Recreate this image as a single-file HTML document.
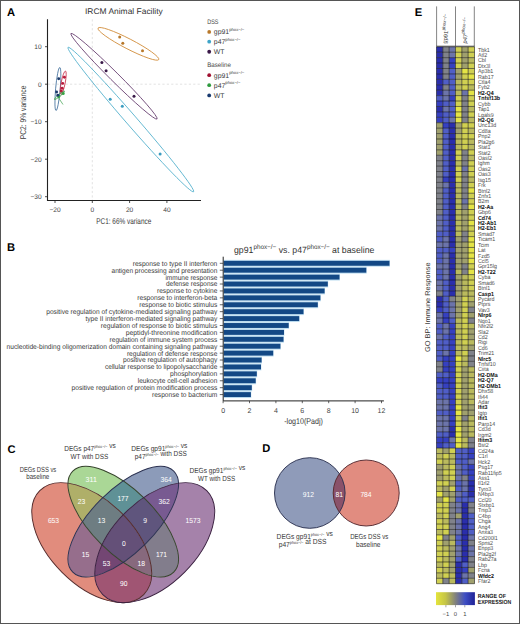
<!DOCTYPE html>
<html><head><meta charset="utf-8"><style>
html,body{margin:0;padding:0;background:#fff;}
svg{display:block;font-family:"Liberation Sans", sans-serif;text-rendering:geometricPrecision;}
</style></head><body>
<svg width="520" height="624" viewBox="0 0 520 624">
<rect x="0.5" y="0.5" width="519" height="623" fill="#fff" stroke="#555" stroke-width="1"/>
<text x="7.00" y="16.30" font-size="11.2" fill="#000" text-anchor="start" font-weight="bold" >A</text>
<text x="6.90" y="251.20" font-size="11.2" fill="#000" text-anchor="start" font-weight="bold" >B</text>
<text x="7.50" y="452.70" font-size="11.2" fill="#000" text-anchor="start" font-weight="bold" >C</text>
<text x="262.20" y="451.60" font-size="11.2" fill="#000" text-anchor="start" font-weight="bold" >D</text>
<text x="414.70" y="15.90" font-size="11.2" fill="#000" text-anchor="start" font-weight="bold" >E</text>
<text x="85.00" y="13.90" font-size="8.2" fill="#333" text-anchor="start" font-weight="normal" textLength="77.80" lengthAdjust="spacingAndGlyphs" >IRCM Animal Facility</text>
<line x1="92.3" y1="19.3" x2="92.3" y2="200" stroke="#cfcfcf" stroke-width="0.6" stroke-dasharray="2.2,2.2"/>
<line x1="48" y1="84.2" x2="201" y2="84.2" stroke="#cfcfcf" stroke-width="0.6" stroke-dasharray="2.2,2.2"/>
<path d="M47.5 19.3 V200.5 H201" fill="none" stroke="#222" stroke-width="1.1"/>
<line x1="45" y1="46.7" x2="47.5" y2="46.7" stroke="#222" stroke-width="0.8"/>
<text x="41.60" y="49.00" font-size="6.6" fill="#444" text-anchor="end" font-weight="normal" >10</text>
<line x1="45" y1="84.2" x2="47.5" y2="84.2" stroke="#222" stroke-width="0.8"/>
<text x="41.60" y="86.50" font-size="6.6" fill="#444" text-anchor="end" font-weight="normal" >0</text>
<line x1="45" y1="121.7" x2="47.5" y2="121.7" stroke="#222" stroke-width="0.8"/>
<text x="41.60" y="124.00" font-size="6.6" fill="#444" text-anchor="end" font-weight="normal" >−10</text>
<line x1="45" y1="159.2" x2="47.5" y2="159.2" stroke="#222" stroke-width="0.8"/>
<text x="41.60" y="161.50" font-size="6.6" fill="#444" text-anchor="end" font-weight="normal" >−20</text>
<line x1="45" y1="196.7" x2="47.5" y2="196.7" stroke="#222" stroke-width="0.8"/>
<text x="41.60" y="199.00" font-size="6.6" fill="#444" text-anchor="end" font-weight="normal" >−30</text>
<line x1="55" y1="200.5" x2="55" y2="203" stroke="#222" stroke-width="0.8"/>
<text x="55.00" y="212.30" font-size="6.6" fill="#444" text-anchor="middle" font-weight="normal" >−20</text>
<line x1="92.3" y1="200.5" x2="92.3" y2="203" stroke="#222" stroke-width="0.8"/>
<text x="92.30" y="212.30" font-size="6.6" fill="#444" text-anchor="middle" font-weight="normal" >0</text>
<line x1="129.6" y1="200.5" x2="129.6" y2="203" stroke="#222" stroke-width="0.8"/>
<text x="129.60" y="212.30" font-size="6.6" fill="#444" text-anchor="middle" font-weight="normal" >20</text>
<line x1="166.9" y1="200.5" x2="166.9" y2="203" stroke="#222" stroke-width="0.8"/>
<text x="166.90" y="212.30" font-size="6.6" fill="#444" text-anchor="middle" font-weight="normal" >40</text>
<text x="96.30" y="223.80" font-size="8.4" fill="#3a3a3a" text-anchor="start" font-weight="normal" textLength="55.00" lengthAdjust="spacingAndGlyphs" >PC1: 66% variance</text>
<text transform="translate(26.2,139.3) rotate(-90)" font-size="8.4" fill="#3a3a3a" textLength="53.7" lengthAdjust="spacingAndGlyphs">PC2: 9% variance</text>
<ellipse cx="128.4" cy="43.85" rx="34.2" ry="5.0" transform="rotate(27.4 128.4 43.85)" fill="none" stroke="#D08A36" stroke-width="0.8" />
<ellipse cx="114" cy="76.25" rx="60.7" ry="4.4" transform="rotate(44.8 114 76.25)" fill="none" stroke="#5E3468" stroke-width="0.8" />
<ellipse cx="130.8" cy="119.55" rx="95.7" ry="5.3" transform="rotate(49 130.8 119.55)" fill="none" stroke="#4EAECB" stroke-width="0.8" />
<ellipse cx="57.9" cy="89" rx="21.6" ry="2.3" transform="rotate(95 57.9 89)" fill="none" stroke="#3B6A9A" stroke-width="0.8" />
<ellipse cx="63.2" cy="82.7" rx="11.9" ry="2.0" transform="rotate(101 63.2 82.7)" fill="none" stroke="#C8304A" stroke-width="0.8" />
<ellipse cx="59.5" cy="95.3" rx="6.5" ry="1.0" transform="rotate(-40 59.5 95.3)" fill="none" stroke="#3BA04B" stroke-width="0.8" />
<line x1="58" y1="97" x2="63" y2="104.5" stroke="#3BA04B" stroke-width="0.7"/>
<circle cx="119.7" cy="37" r="1.5" fill="#B8782A"/>
<circle cx="122.8" cy="43.2" r="1.5" fill="#B8782A"/>
<circle cx="142.5" cy="50.7" r="1.5" fill="#B8782A"/>
<circle cx="101.9" cy="62.4" r="1.5" fill="#3A1848"/>
<circle cx="106.1" cy="70.7" r="1.5" fill="#3A1848"/>
<circle cx="134" cy="96.3" r="1.5" fill="#3A1848"/>
<circle cx="110.2" cy="99.2" r="1.5" fill="#3A9CC0"/>
<circle cx="122.3" cy="106.3" r="1.5" fill="#3A9CC0"/>
<circle cx="160.1" cy="154" r="1.5" fill="#3A9CC0"/>
<circle cx="64.4" cy="77.2" r="1.45" fill="#B8183A"/>
<circle cx="62.7" cy="83.4" r="1.45" fill="#B8183A"/>
<circle cx="62.2" cy="88.2" r="1.45" fill="#B8183A"/>
<circle cx="61.3" cy="90.9" r="1.45" fill="#B8183A"/>
<circle cx="63.2" cy="93.4" r="1.5" fill="#34A444"/>
<circle cx="58.8" cy="96.6" r="1.5" fill="#34A444"/>
<circle cx="58.7" cy="78.7" r="1.45" fill="#1C3A6A"/>
<circle cx="56.6" cy="92" r="1.45" fill="#1C3A6A"/>
<circle cx="57.8" cy="95.3" r="1.45" fill="#1C3A6A"/>
<text x="207.20" y="24.40" font-size="6.5" fill="#444" text-anchor="start" font-weight="normal" textLength="11.30" lengthAdjust="spacingAndGlyphs" >DSS</text>
<text x="207.20" y="67.10" font-size="6.5" fill="#444" text-anchor="start" font-weight="normal" textLength="23.70" lengthAdjust="spacingAndGlyphs" >Baseline</text>
<circle cx="209.2" cy="31.9" r="1.9" fill="#B8782A"/>
<text x="213.8" y="34.30" font-size="6.9" fill="#3a3a3a">gp91<tspan font-size="4.2" dy="-3.3">phox−/−</tspan></text>
<circle cx="209.2" cy="41.7" r="1.9" fill="#3EA4C8"/>
<text x="213.8" y="44.10" font-size="6.9" fill="#3a3a3a">p47<tspan font-size="4.2" dy="-3.3">phox−/−</tspan></text>
<circle cx="209.2" cy="51.75" r="1.9" fill="#3A1848"/>
<text x="213.8" y="54.15" font-size="6.9" fill="#3a3a3a">WT<tspan font-size="4.2" dy="-3.3"></tspan></text>
<circle cx="209.2" cy="75.2" r="1.9" fill="#A01030"/>
<text x="213.8" y="77.60" font-size="6.9" fill="#3a3a3a">gp91<tspan font-size="4.2" dy="-3.3">phox−/−</tspan></text>
<circle cx="209.2" cy="85.2" r="1.9" fill="#2E9A3E"/>
<text x="213.8" y="87.60" font-size="6.9" fill="#3a3a3a">p47<tspan font-size="4.2" dy="-3.3">phox−/−</tspan></text>
<circle cx="209.2" cy="95.4" r="1.9" fill="#183A70"/>
<text x="213.8" y="97.80" font-size="6.9" fill="#3a3a3a">WT<tspan font-size="4.2" dy="-3.3"></tspan></text>
<text x="234" y="253" font-size="9" fill="#333" textLength="140.4" lengthAdjust="spacingAndGlyphs">gp91<tspan font-size="6.5" dy="-3.6">phox−/−</tspan><tspan dy="3.6"> vs. p47</tspan><tspan font-size="6.5" dy="-3.6">phox−/−</tspan><tspan dy="3.6"> at baseline</tspan></text>
<rect x="223.7" y="259.85" width="166.20" height="6.9" fill="#C2E0F2"/>
<rect x="223.7" y="260.85" width="165.80" height="4.9" fill="#134885"/>
<line x1="219.8" y1="263.30" x2="223" y2="263.30" stroke="#222" stroke-width="0.7"/>
<text x="217.30" y="265.70" font-size="7.0" fill="#3a3a3a" text-anchor="end" font-weight="normal" textLength="84.60" lengthAdjust="spacingAndGlyphs" >response to type II interferon</text>
<rect x="223.7" y="266.76" width="143.00" height="6.9" fill="#C2E0F2"/>
<rect x="223.7" y="267.76" width="142.60" height="4.9" fill="#134885"/>
<line x1="219.8" y1="270.21" x2="223" y2="270.21" stroke="#222" stroke-width="0.7"/>
<text x="217.30" y="272.61" font-size="7.0" fill="#3a3a3a" text-anchor="end" font-weight="normal" textLength="105.80" lengthAdjust="spacingAndGlyphs" >antigen processing and presentation</text>
<rect x="223.7" y="273.67" width="116.20" height="6.9" fill="#C2E0F2"/>
<rect x="223.7" y="274.67" width="115.80" height="4.9" fill="#134885"/>
<line x1="219.8" y1="277.12" x2="223" y2="277.12" stroke="#222" stroke-width="0.7"/>
<text x="217.30" y="279.52" font-size="7.0" fill="#3a3a3a" text-anchor="end" font-weight="normal" textLength="51.90" lengthAdjust="spacingAndGlyphs" >immune response</text>
<rect x="223.7" y="280.58" width="104.50" height="6.9" fill="#C2E0F2"/>
<rect x="223.7" y="281.58" width="104.10" height="4.9" fill="#134885"/>
<line x1="219.8" y1="284.03" x2="223" y2="284.03" stroke="#222" stroke-width="0.7"/>
<text x="217.30" y="286.43" font-size="7.0" fill="#3a3a3a" text-anchor="end" font-weight="normal" textLength="51.30" lengthAdjust="spacingAndGlyphs" >defense response</text>
<rect x="223.7" y="287.49" width="101.30" height="6.9" fill="#C2E0F2"/>
<rect x="223.7" y="288.49" width="100.90" height="4.9" fill="#134885"/>
<line x1="219.8" y1="290.94" x2="223" y2="290.94" stroke="#222" stroke-width="0.7"/>
<text x="217.30" y="293.34" font-size="7.0" fill="#3a3a3a" text-anchor="end" font-weight="normal" textLength="60.30" lengthAdjust="spacingAndGlyphs" >response to cytokine</text>
<rect x="223.7" y="294.40" width="97.10" height="6.9" fill="#C2E0F2"/>
<rect x="223.7" y="295.40" width="96.70" height="4.9" fill="#134885"/>
<line x1="219.8" y1="297.85" x2="223" y2="297.85" stroke="#222" stroke-width="0.7"/>
<text x="217.30" y="300.25" font-size="7.0" fill="#3a3a3a" text-anchor="end" font-weight="normal" textLength="80.00" lengthAdjust="spacingAndGlyphs" >response to interferon-beta</text>
<rect x="223.7" y="301.31" width="94.50" height="6.9" fill="#C2E0F2"/>
<rect x="223.7" y="302.31" width="94.10" height="4.9" fill="#134885"/>
<line x1="219.8" y1="304.76" x2="223" y2="304.76" stroke="#222" stroke-width="0.7"/>
<text x="217.30" y="307.16" font-size="7.0" fill="#3a3a3a" text-anchor="end" font-weight="normal" textLength="78.10" lengthAdjust="spacingAndGlyphs" >response to biotic stimulus</text>
<rect x="223.7" y="308.22" width="80.20" height="6.9" fill="#C2E0F2"/>
<rect x="223.7" y="309.22" width="79.80" height="4.9" fill="#134885"/>
<line x1="219.8" y1="311.67" x2="223" y2="311.67" stroke="#222" stroke-width="0.7"/>
<text x="217.30" y="314.07" font-size="7.0" fill="#3a3a3a" text-anchor="end" font-weight="normal" textLength="171.10" lengthAdjust="spacingAndGlyphs" >positive regulation of cytokine-mediated signaling pathway</text>
<rect x="223.7" y="315.13" width="75.90" height="6.9" fill="#C2E0F2"/>
<rect x="223.7" y="316.13" width="75.50" height="4.9" fill="#134885"/>
<line x1="219.8" y1="318.58" x2="223" y2="318.58" stroke="#222" stroke-width="0.7"/>
<text x="217.30" y="320.98" font-size="7.0" fill="#3a3a3a" text-anchor="end" font-weight="normal" textLength="131.90" lengthAdjust="spacingAndGlyphs" >type II interferon-mediated signaling pathway</text>
<rect x="223.7" y="322.04" width="65.40" height="6.9" fill="#C2E0F2"/>
<rect x="223.7" y="323.04" width="65.00" height="4.9" fill="#134885"/>
<line x1="219.8" y1="325.49" x2="223" y2="325.49" stroke="#222" stroke-width="0.7"/>
<text x="217.30" y="327.89" font-size="7.0" fill="#3a3a3a" text-anchor="end" font-weight="normal" textLength="116.50" lengthAdjust="spacingAndGlyphs" >regulation of response to biotic stimulus</text>
<rect x="223.7" y="328.95" width="60.70" height="6.9" fill="#C2E0F2"/>
<rect x="223.7" y="329.95" width="60.30" height="4.9" fill="#134885"/>
<line x1="219.8" y1="332.40" x2="223" y2="332.40" stroke="#222" stroke-width="0.7"/>
<text x="217.30" y="334.80" font-size="7.0" fill="#3a3a3a" text-anchor="end" font-weight="normal" textLength="91.50" lengthAdjust="spacingAndGlyphs" >peptidyl-threonine modification</text>
<rect x="223.7" y="335.86" width="60.20" height="6.9" fill="#C2E0F2"/>
<rect x="223.7" y="336.86" width="59.80" height="4.9" fill="#134885"/>
<line x1="219.8" y1="339.31" x2="223" y2="339.31" stroke="#222" stroke-width="0.7"/>
<text x="217.30" y="341.71" font-size="7.0" fill="#3a3a3a" text-anchor="end" font-weight="normal" textLength="107.70" lengthAdjust="spacingAndGlyphs" >regulation of immune system process</text>
<rect x="223.7" y="342.77" width="57.10" height="6.9" fill="#C2E0F2"/>
<rect x="223.7" y="343.77" width="56.70" height="4.9" fill="#134885"/>
<line x1="219.8" y1="346.22" x2="223" y2="346.22" stroke="#222" stroke-width="0.7"/>
<text x="217.30" y="348.62" font-size="7.0" fill="#3a3a3a" text-anchor="end" font-weight="normal" textLength="210.80" lengthAdjust="spacingAndGlyphs" >nucleotide-binding oligomerization domain containing signaling pathway</text>
<rect x="223.7" y="349.68" width="49.90" height="6.9" fill="#C2E0F2"/>
<rect x="223.7" y="350.68" width="49.50" height="4.9" fill="#134885"/>
<line x1="219.8" y1="353.13" x2="223" y2="353.13" stroke="#222" stroke-width="0.7"/>
<text x="217.30" y="355.53" font-size="7.0" fill="#3a3a3a" text-anchor="end" font-weight="normal" textLength="90.40" lengthAdjust="spacingAndGlyphs" >regulation of defense response</text>
<rect x="223.7" y="356.59" width="38.30" height="6.9" fill="#C2E0F2"/>
<rect x="223.7" y="357.59" width="37.90" height="4.9" fill="#134885"/>
<line x1="219.8" y1="360.04" x2="223" y2="360.04" stroke="#222" stroke-width="0.7"/>
<text x="217.30" y="362.44" font-size="7.0" fill="#3a3a3a" text-anchor="end" font-weight="normal" textLength="94.30" lengthAdjust="spacingAndGlyphs" >positive regulation of autophagy</text>
<rect x="223.7" y="363.50" width="37.70" height="6.9" fill="#C2E0F2"/>
<rect x="223.7" y="364.50" width="37.30" height="4.9" fill="#134885"/>
<line x1="219.8" y1="366.95" x2="223" y2="366.95" stroke="#222" stroke-width="0.7"/>
<text x="217.30" y="369.35" font-size="7.0" fill="#3a3a3a" text-anchor="end" font-weight="normal" textLength="112.30" lengthAdjust="spacingAndGlyphs" >cellular response to lipopolysaccharide</text>
<rect x="223.7" y="370.41" width="33.50" height="6.9" fill="#C2E0F2"/>
<rect x="223.7" y="371.41" width="33.10" height="4.9" fill="#134885"/>
<line x1="219.8" y1="373.86" x2="223" y2="373.86" stroke="#222" stroke-width="0.7"/>
<text x="217.30" y="376.26" font-size="7.0" fill="#3a3a3a" text-anchor="end" font-weight="normal" textLength="47.30" lengthAdjust="spacingAndGlyphs" >phosphorylation</text>
<rect x="223.7" y="377.32" width="32.40" height="6.9" fill="#C2E0F2"/>
<rect x="223.7" y="378.32" width="32.00" height="4.9" fill="#134885"/>
<line x1="219.8" y1="380.77" x2="223" y2="380.77" stroke="#222" stroke-width="0.7"/>
<text x="217.30" y="383.17" font-size="7.0" fill="#3a3a3a" text-anchor="end" font-weight="normal" textLength="79.60" lengthAdjust="spacingAndGlyphs" >leukocyte cell-cell adhesion</text>
<rect x="223.7" y="384.23" width="28.50" height="6.9" fill="#C2E0F2"/>
<rect x="223.7" y="385.23" width="28.10" height="4.9" fill="#134885"/>
<line x1="219.8" y1="387.68" x2="223" y2="387.68" stroke="#222" stroke-width="0.7"/>
<text x="217.30" y="390.08" font-size="7.0" fill="#3a3a3a" text-anchor="end" font-weight="normal" textLength="145.80" lengthAdjust="spacingAndGlyphs" >positive regulation of protein modification process</text>
<rect x="223.7" y="391.14" width="27.60" height="6.9" fill="#C2E0F2"/>
<rect x="223.7" y="392.14" width="27.20" height="4.9" fill="#134885"/>
<line x1="219.8" y1="394.59" x2="223" y2="394.59" stroke="#222" stroke-width="0.7"/>
<text x="217.30" y="396.99" font-size="7.0" fill="#3a3a3a" text-anchor="end" font-weight="normal" textLength="65.30" lengthAdjust="spacingAndGlyphs" >response to bacterium</text>
<path d="M223.2 256.7 V400.9 H383.9" fill="none" stroke="#222" stroke-width="1"/>
<line x1="223.10" y1="400.9" x2="223.10" y2="403.2" stroke="#222" stroke-width="0.7"/>
<text x="223.10" y="412.60" font-size="7.0" fill="#444" text-anchor="middle" font-weight="normal" >0</text>
<line x1="249.50" y1="400.9" x2="249.50" y2="403.2" stroke="#222" stroke-width="0.7"/>
<text x="249.50" y="412.60" font-size="7.0" fill="#444" text-anchor="middle" font-weight="normal" >2</text>
<line x1="275.90" y1="400.9" x2="275.90" y2="403.2" stroke="#222" stroke-width="0.7"/>
<text x="275.90" y="412.60" font-size="7.0" fill="#444" text-anchor="middle" font-weight="normal" >4</text>
<line x1="302.30" y1="400.9" x2="302.30" y2="403.2" stroke="#222" stroke-width="0.7"/>
<text x="302.30" y="412.60" font-size="7.0" fill="#444" text-anchor="middle" font-weight="normal" >6</text>
<line x1="328.70" y1="400.9" x2="328.70" y2="403.2" stroke="#222" stroke-width="0.7"/>
<text x="328.70" y="412.60" font-size="7.0" fill="#444" text-anchor="middle" font-weight="normal" >8</text>
<line x1="355.10" y1="400.9" x2="355.10" y2="403.2" stroke="#222" stroke-width="0.7"/>
<text x="355.10" y="412.60" font-size="7.0" fill="#444" text-anchor="middle" font-weight="normal" >10</text>
<line x1="381.50" y1="400.9" x2="381.50" y2="403.2" stroke="#222" stroke-width="0.7"/>
<text x="381.50" y="412.60" font-size="7.0" fill="#444" text-anchor="middle" font-weight="normal" >12</text>
<text x="284.20" y="423.80" font-size="8.4" fill="#3a3a3a" text-anchor="start" font-weight="normal" textLength="38.80" lengthAdjust="spacingAndGlyphs" >-log10(Padj)</text>
<defs><clipPath id="ce0"><ellipse cx="91.75" cy="542.65" rx="73.50" ry="42.00" transform="rotate(45 91.75 542.65)"/></clipPath><clipPath id="ce1"><ellipse cx="123.25" cy="521.65" rx="71.40" ry="31.50" transform="rotate(45 123.25 521.65)"/></clipPath><clipPath id="ce2"><ellipse cx="123.25" cy="521.65" rx="71.40" ry="31.50" transform="rotate(-45 123.25 521.65)"/></clipPath><clipPath id="ce3"><ellipse cx="154.75" cy="542.65" rx="73.50" ry="42.00" transform="rotate(-45 154.75 542.65)"/></clipPath><mask id="mr" maskUnits="userSpaceOnUse" x="0" y="420" width="260" height="204"><rect x="0" y="420" width="260" height="204" fill="#fff"/><ellipse cx="123.25" cy="521.65" rx="71.40" ry="31.50" transform="rotate(45 123.25 521.65)" fill="#000"/><ellipse cx="123.25" cy="521.65" rx="71.40" ry="31.50" transform="rotate(-45 123.25 521.65)" fill="#000"/><ellipse cx="154.75" cy="542.65" rx="73.50" ry="42.00" transform="rotate(-45 154.75 542.65)" fill="#000"/></mask><mask id="mg" maskUnits="userSpaceOnUse" x="0" y="420" width="260" height="204"><rect x="0" y="420" width="260" height="204" fill="#fff"/><ellipse cx="91.75" cy="542.65" rx="73.50" ry="42.00" transform="rotate(45 91.75 542.65)" fill="#000"/><ellipse cx="123.25" cy="521.65" rx="71.40" ry="31.50" transform="rotate(-45 123.25 521.65)" fill="#000"/><ellipse cx="154.75" cy="542.65" rx="73.50" ry="42.00" transform="rotate(-45 154.75 542.65)" fill="#000"/></mask><mask id="mb" maskUnits="userSpaceOnUse" x="0" y="420" width="260" height="204"><rect x="0" y="420" width="260" height="204" fill="#fff"/><ellipse cx="91.75" cy="542.65" rx="73.50" ry="42.00" transform="rotate(45 91.75 542.65)" fill="#000"/><ellipse cx="123.25" cy="521.65" rx="71.40" ry="31.50" transform="rotate(45 123.25 521.65)" fill="#000"/><ellipse cx="154.75" cy="542.65" rx="73.50" ry="42.00" transform="rotate(-45 154.75 542.65)" fill="#000"/></mask><mask id="mp" maskUnits="userSpaceOnUse" x="0" y="420" width="260" height="204"><rect x="0" y="420" width="260" height="204" fill="#fff"/><ellipse cx="91.75" cy="542.65" rx="73.50" ry="42.00" transform="rotate(45 91.75 542.65)" fill="#000"/><ellipse cx="123.25" cy="521.65" rx="71.40" ry="31.50" transform="rotate(45 123.25 521.65)" fill="#000"/><ellipse cx="123.25" cy="521.65" rx="71.40" ry="31.50" transform="rotate(-45 123.25 521.65)" fill="#000"/></mask><mask id="mrg" maskUnits="userSpaceOnUse" x="0" y="420" width="260" height="204"><rect x="0" y="420" width="260" height="204" fill="#fff"/><ellipse cx="123.25" cy="521.65" rx="71.40" ry="31.50" transform="rotate(-45 123.25 521.65)" fill="#000"/><ellipse cx="154.75" cy="542.65" rx="73.50" ry="42.00" transform="rotate(-45 154.75 542.65)" fill="#000"/></mask><mask id="mgb" maskUnits="userSpaceOnUse" x="0" y="420" width="260" height="204"><rect x="0" y="420" width="260" height="204" fill="#fff"/><ellipse cx="91.75" cy="542.65" rx="73.50" ry="42.00" transform="rotate(45 91.75 542.65)" fill="#000"/><ellipse cx="154.75" cy="542.65" rx="73.50" ry="42.00" transform="rotate(-45 154.75 542.65)" fill="#000"/></mask><mask id="mbp" maskUnits="userSpaceOnUse" x="0" y="420" width="260" height="204"><rect x="0" y="420" width="260" height="204" fill="#fff"/><ellipse cx="91.75" cy="542.65" rx="73.50" ry="42.00" transform="rotate(45 91.75 542.65)" fill="#000"/><ellipse cx="123.25" cy="521.65" rx="71.40" ry="31.50" transform="rotate(45 123.25 521.65)" fill="#000"/></mask><mask id="mrp" maskUnits="userSpaceOnUse" x="0" y="420" width="260" height="204"><rect x="0" y="420" width="260" height="204" fill="#fff"/><ellipse cx="123.25" cy="521.65" rx="71.40" ry="31.50" transform="rotate(45 123.25 521.65)" fill="#000"/><ellipse cx="123.25" cy="521.65" rx="71.40" ry="31.50" transform="rotate(-45 123.25 521.65)" fill="#000"/></mask><mask id="mrb" maskUnits="userSpaceOnUse" x="0" y="420" width="260" height="204"><rect x="0" y="420" width="260" height="204" fill="#fff"/><ellipse cx="123.25" cy="521.65" rx="71.40" ry="31.50" transform="rotate(45 123.25 521.65)" fill="#000"/><ellipse cx="154.75" cy="542.65" rx="73.50" ry="42.00" transform="rotate(-45 154.75 542.65)" fill="#000"/></mask><mask id="mgp" maskUnits="userSpaceOnUse" x="0" y="420" width="260" height="204"><rect x="0" y="420" width="260" height="204" fill="#fff"/><ellipse cx="91.75" cy="542.65" rx="73.50" ry="42.00" transform="rotate(45 91.75 542.65)" fill="#000"/><ellipse cx="123.25" cy="521.65" rx="71.40" ry="31.50" transform="rotate(-45 123.25 521.65)" fill="#000"/></mask><mask id="mrgb" maskUnits="userSpaceOnUse" x="0" y="420" width="260" height="204"><rect x="0" y="420" width="260" height="204" fill="#fff"/><ellipse cx="154.75" cy="542.65" rx="73.50" ry="42.00" transform="rotate(-45 154.75 542.65)" fill="#000"/></mask><mask id="mgbp" maskUnits="userSpaceOnUse" x="0" y="420" width="260" height="204"><rect x="0" y="420" width="260" height="204" fill="#fff"/><ellipse cx="91.75" cy="542.65" rx="73.50" ry="42.00" transform="rotate(45 91.75 542.65)" fill="#000"/></mask><mask id="mrbp" maskUnits="userSpaceOnUse" x="0" y="420" width="260" height="204"><rect x="0" y="420" width="260" height="204" fill="#fff"/><ellipse cx="123.25" cy="521.65" rx="71.40" ry="31.50" transform="rotate(45 123.25 521.65)" fill="#000"/></mask><mask id="mrgp" maskUnits="userSpaceOnUse" x="0" y="420" width="260" height="204"><rect x="0" y="420" width="260" height="204" fill="#fff"/><ellipse cx="123.25" cy="521.65" rx="71.40" ry="31.50" transform="rotate(-45 123.25 521.65)" fill="#000"/></mask><mask id="mrgbp" maskUnits="userSpaceOnUse" x="0" y="420" width="260" height="204"><rect x="0" y="420" width="260" height="204" fill="#fff"/></mask></defs>
<g mask="url(#mr)"><g clip-path="url(#ce0)"><rect x="0" y="420" width="260" height="204" fill="rgb(225, 140, 125)"/></g></g>
<g mask="url(#mg)"><g clip-path="url(#ce1)"><rect x="0" y="420" width="260" height="204" fill="rgb(170, 215, 150)"/></g></g>
<g mask="url(#mb)"><g clip-path="url(#ce2)"><rect x="0" y="420" width="260" height="204" fill="rgb(140, 155, 185)"/></g></g>
<g mask="url(#mp)"><g clip-path="url(#ce3)"><rect x="0" y="420" width="260" height="204" fill="rgb(165, 130, 170)"/></g></g>
<g mask="url(#mrg)"><g clip-path="url(#ce0)"><g clip-path="url(#ce1)"><rect x="0" y="420" width="260" height="204" fill="rgb(175, 175, 105)"/></g></g></g>
<g mask="url(#mgb)"><g clip-path="url(#ce1)"><g clip-path="url(#ce2)"><rect x="0" y="420" width="260" height="204" fill="rgb(95, 145, 150)"/></g></g></g>
<g mask="url(#mbp)"><g clip-path="url(#ce2)"><g clip-path="url(#ce3)"><rect x="0" y="420" width="260" height="204" fill="rgb(120, 90, 145)"/></g></g></g>
<g mask="url(#mrp)"><g clip-path="url(#ce0)"><g clip-path="url(#ce3)"><rect x="0" y="420" width="260" height="204" fill="rgb(160, 85, 115)"/></g></g></g>
<g mask="url(#mrb)"><g clip-path="url(#ce0)"><g clip-path="url(#ce2)"><rect x="0" y="420" width="260" height="204" fill="rgb(150, 110, 140)"/></g></g></g>
<g mask="url(#mgp)"><g clip-path="url(#ce1)"><g clip-path="url(#ce3)"><rect x="0" y="420" width="260" height="204" fill="rgb(130, 125, 140)"/></g></g></g>
<g mask="url(#mrgb)"><g clip-path="url(#ce0)"><g clip-path="url(#ce1)"><g clip-path="url(#ce2)"><rect x="0" y="420" width="260" height="204" fill="rgb(110, 125, 130)"/></g></g></g></g>
<g mask="url(#mgbp)"><g clip-path="url(#ce1)"><g clip-path="url(#ce2)"><g clip-path="url(#ce3)"><rect x="0" y="420" width="260" height="204" fill="rgb(95, 85, 125)"/></g></g></g></g>
<g mask="url(#mrbp)"><g clip-path="url(#ce0)"><g clip-path="url(#ce2)"><g clip-path="url(#ce3)"><rect x="0" y="420" width="260" height="204" fill="rgb(115, 70, 115)"/></g></g></g></g>
<g mask="url(#mrgp)"><g clip-path="url(#ce0)"><g clip-path="url(#ce1)"><g clip-path="url(#ce3)"><rect x="0" y="420" width="260" height="204" fill="rgb(135, 105, 125)"/></g></g></g></g>
<g mask="url(#mrgbp)"><g clip-path="url(#ce0)"><g clip-path="url(#ce1)"><g clip-path="url(#ce2)"><g clip-path="url(#ce3)"><rect x="0" y="420" width="260" height="204" fill="rgb(100, 80, 120)"/></g></g></g></g></g>
<ellipse cx="91.75" cy="542.65" rx="73.50" ry="42.00" transform="rotate(45 91.75 542.65)" fill="none" stroke="#552a2a" stroke-width="0.95"/>
<ellipse cx="123.25" cy="521.65" rx="71.40" ry="31.50" transform="rotate(45 123.25 521.65)" fill="none" stroke="#34422a" stroke-width="0.95"/>
<ellipse cx="123.25" cy="521.65" rx="71.40" ry="31.50" transform="rotate(-45 123.25 521.65)" fill="none" stroke="#2a3050" stroke-width="0.95"/>
<ellipse cx="154.75" cy="542.65" rx="73.50" ry="42.00" transform="rotate(-45 154.75 542.65)" fill="none" stroke="#3a2040" stroke-width="0.95"/>
<text x="53.50" y="522.90" font-size="7.2" fill="#fff" text-anchor="middle" font-weight="normal" textLength="11.25" lengthAdjust="spacingAndGlyphs" >653</text>
<text x="91.20" y="481.70" font-size="7.2" fill="#fff" text-anchor="middle" font-weight="normal" textLength="11.25" lengthAdjust="spacingAndGlyphs" >311</text>
<text x="166.20" y="481.70" font-size="7.2" fill="#fff" text-anchor="middle" font-weight="normal" textLength="11.25" lengthAdjust="spacingAndGlyphs" >364</text>
<text x="193.00" y="522.90" font-size="7.2" fill="#fff" text-anchor="middle" font-weight="normal" textLength="15.00" lengthAdjust="spacingAndGlyphs" >1573</text>
<text x="81.50" y="504.00" font-size="7.2" fill="#fff" text-anchor="middle" font-weight="normal" textLength="7.50" lengthAdjust="spacingAndGlyphs" >23</text>
<text x="123.00" y="501.00" font-size="7.2" fill="#fff" text-anchor="middle" font-weight="normal" textLength="11.25" lengthAdjust="spacingAndGlyphs" >177</text>
<text x="164.20" y="504.00" font-size="7.2" fill="#fff" text-anchor="middle" font-weight="normal" textLength="11.25" lengthAdjust="spacingAndGlyphs" >362</text>
<text x="101.50" y="523.30" font-size="7.2" fill="#fff" text-anchor="middle" font-weight="normal" textLength="7.50" lengthAdjust="spacingAndGlyphs" >13</text>
<text x="145.00" y="523.30" font-size="7.2" fill="#fff" text-anchor="middle" font-weight="normal" textLength="3.75" lengthAdjust="spacingAndGlyphs" >9</text>
<text x="123.80" y="546.30" font-size="7.2" fill="#fff" text-anchor="middle" font-weight="normal" textLength="3.75" lengthAdjust="spacingAndGlyphs" >0</text>
<text x="85.40" y="556.70" font-size="7.2" fill="#fff" text-anchor="middle" font-weight="normal" textLength="7.50" lengthAdjust="spacingAndGlyphs" >15</text>
<text x="161.50" y="556.70" font-size="7.2" fill="#fff" text-anchor="middle" font-weight="normal" textLength="11.25" lengthAdjust="spacingAndGlyphs" >171</text>
<text x="106.50" y="566.30" font-size="7.2" fill="#fff" text-anchor="middle" font-weight="normal" textLength="7.50" lengthAdjust="spacingAndGlyphs" >53</text>
<text x="141.20" y="566.30" font-size="7.2" fill="#fff" text-anchor="middle" font-weight="normal" textLength="7.50" lengthAdjust="spacingAndGlyphs" >18</text>
<text x="123.80" y="586.30" font-size="7.2" fill="#fff" text-anchor="middle" font-weight="normal" textLength="7.50" lengthAdjust="spacingAndGlyphs" >90</text>
<text x="64.30" y="450.70" font-size="7.4" fill="#383838" textLength="51.50" lengthAdjust="spacingAndGlyphs">DEGs p47<tspan font-size="4.2" dy="-3.2">phox−/−</tspan><tspan dy="3.2"></tspan> vs</text>
<text x="70.50" y="458.50" font-size="7.4" fill="#383838" textLength="37.70" lengthAdjust="spacingAndGlyphs">WT with DSS</text>
<text x="19.70" y="471.50" font-size="7.4" fill="#383838" textLength="36.50" lengthAdjust="spacingAndGlyphs">DEGs DSS vs</text>
<text x="26.20" y="478.90" font-size="7.4" fill="#383838" textLength="23.10" lengthAdjust="spacingAndGlyphs">baseline</text>
<text x="131.30" y="450.80" font-size="7.4" fill="#383838" textLength="56.00" lengthAdjust="spacingAndGlyphs">DEGs gp91<tspan font-size="4.2" dy="-3.2">phox−/−</tspan><tspan dy="3.2"></tspan> vs</text>
<text x="134.80" y="458.80" font-size="7.4" fill="#383838" textLength="52.00" lengthAdjust="spacingAndGlyphs">p47<tspan font-size="4.2" dy="-3.2">phox−/−</tspan><tspan dy="3.2"></tspan> with DSS</text>
<text x="189.50" y="473.10" font-size="7.4" fill="#383838" textLength="55.70" lengthAdjust="spacingAndGlyphs">DEGs gp91<tspan font-size="4.2" dy="-3.2">phox−/−</tspan><tspan dy="3.2"></tspan> vs</text>
<text x="198.00" y="480.90" font-size="7.4" fill="#383838" textLength="37.20" lengthAdjust="spacingAndGlyphs">WT with DSS</text>
<defs><clipPath id="cdb"><circle cx="309.8" cy="493" r="35.3"/></clipPath></defs>
<circle cx="309.8" cy="493" r="35.3" fill="rgb(143,155,185)"/>
<circle cx="366.2" cy="493" r="33" fill="rgb(225,140,128)"/>
<circle cx="366.2" cy="493" r="33" fill="rgb(138,82,106)" clip-path="url(#cdb)"/>
<circle cx="309.8" cy="493" r="35.3" fill="none" stroke="#2a3050" stroke-width="0.95"/>
<circle cx="366.2" cy="493" r="33" fill="none" stroke="#552a30" stroke-width="0.95"/>
<text x="308.40" y="496.50" font-size="7.2" fill="#fff" text-anchor="middle" font-weight="normal" textLength="11.25" lengthAdjust="spacingAndGlyphs" >912</text>
<text x="339.20" y="496.50" font-size="7.2" fill="#fff" text-anchor="middle" font-weight="normal" textLength="7.50" lengthAdjust="spacingAndGlyphs" >81</text>
<text x="366.00" y="496.50" font-size="7.2" fill="#fff" text-anchor="middle" font-weight="normal" textLength="11.25" lengthAdjust="spacingAndGlyphs" >784</text>
<text x="276.60" y="539.00" font-size="7.4" fill="#383838" textLength="56.30" lengthAdjust="spacingAndGlyphs">DEGs gp91<tspan font-size="4.2" dy="-3.2">phox−/−</tspan><tspan dy="3.2"></tspan> vs</text>
<text x="278.70" y="547.10" font-size="7.4" fill="#383838" textLength="47.80" lengthAdjust="spacingAndGlyphs">p47<tspan font-size="4.2" dy="-3.2">phox−/−</tspan><tspan dy="3.2"></tspan> at DSS</text>
<text x="350.20" y="539.00" font-size="7.4" fill="#383838" textLength="38.10" lengthAdjust="spacingAndGlyphs">DEGs DSS vs</text>
<text x="356.00" y="547.10" font-size="7.4" fill="#383838" textLength="24.50" lengthAdjust="spacingAndGlyphs">baseline</text>
<rect x="436.50" y="46.80" width="6.33" height="5.42" fill="rgb(42, 46, 172)"/>
<rect x="442.83" y="46.80" width="6.33" height="5.42" fill="rgb(128, 130, 138)"/>
<rect x="449.17" y="46.80" width="6.33" height="5.42" fill="rgb(108, 116, 170)"/>
<rect x="455.50" y="46.80" width="6.33" height="5.42" fill="rgb(208, 208, 82)"/>
<rect x="461.83" y="46.80" width="6.33" height="5.42" fill="rgb(160, 160, 110)"/>
<rect x="468.17" y="46.80" width="6.33" height="5.42" fill="rgb(208, 208, 82)"/>
<rect x="436.50" y="52.22" width="6.33" height="5.42" fill="rgb(42, 46, 172)"/>
<rect x="442.83" y="52.22" width="6.33" height="5.42" fill="rgb(128, 130, 138)"/>
<rect x="449.17" y="52.22" width="6.33" height="5.42" fill="rgb(108, 116, 170)"/>
<rect x="455.50" y="52.22" width="6.33" height="5.42" fill="rgb(208, 208, 82)"/>
<rect x="461.83" y="52.22" width="6.33" height="5.42" fill="rgb(160, 160, 110)"/>
<rect x="468.17" y="52.22" width="6.33" height="5.42" fill="rgb(208, 208, 82)"/>
<rect x="436.50" y="57.65" width="6.33" height="5.42" fill="rgb(42, 46, 172)"/>
<rect x="442.83" y="57.65" width="6.33" height="5.42" fill="rgb(128, 130, 138)"/>
<rect x="449.17" y="57.65" width="6.33" height="5.42" fill="rgb(54, 64, 192)"/>
<rect x="455.50" y="57.65" width="6.33" height="5.42" fill="rgb(208, 208, 82)"/>
<rect x="461.83" y="57.65" width="6.33" height="5.42" fill="rgb(160, 160, 110)"/>
<rect x="468.17" y="57.65" width="6.33" height="5.42" fill="rgb(186, 186, 94)"/>
<rect x="436.50" y="63.07" width="6.33" height="5.42" fill="rgb(42, 46, 172)"/>
<rect x="442.83" y="63.07" width="6.33" height="5.42" fill="rgb(128, 130, 138)"/>
<rect x="449.17" y="63.07" width="6.33" height="5.42" fill="rgb(54, 64, 192)"/>
<rect x="455.50" y="63.07" width="6.33" height="5.42" fill="rgb(208, 208, 82)"/>
<rect x="461.83" y="63.07" width="6.33" height="5.42" fill="rgb(160, 160, 110)"/>
<rect x="468.17" y="63.07" width="6.33" height="5.42" fill="rgb(208, 208, 82)"/>
<rect x="436.50" y="68.49" width="6.33" height="5.42" fill="rgb(42, 46, 172)"/>
<rect x="442.83" y="68.49" width="6.33" height="5.42" fill="rgb(128, 130, 138)"/>
<rect x="449.17" y="68.49" width="6.33" height="5.42" fill="rgb(80, 94, 198)"/>
<rect x="455.50" y="68.49" width="6.33" height="5.42" fill="rgb(160, 160, 110)"/>
<rect x="461.83" y="68.49" width="6.33" height="5.42" fill="rgb(228, 228, 70)"/>
<rect x="468.17" y="68.49" width="6.33" height="5.42" fill="rgb(208, 208, 82)"/>
<rect x="436.50" y="73.92" width="6.33" height="5.42" fill="rgb(42, 46, 172)"/>
<rect x="442.83" y="73.92" width="6.33" height="5.42" fill="rgb(128, 130, 138)"/>
<rect x="449.17" y="73.92" width="6.33" height="5.42" fill="rgb(80, 94, 198)"/>
<rect x="455.50" y="73.92" width="6.33" height="5.42" fill="rgb(160, 160, 110)"/>
<rect x="461.83" y="73.92" width="6.33" height="5.42" fill="rgb(208, 208, 82)"/>
<rect x="468.17" y="73.92" width="6.33" height="5.42" fill="rgb(228, 228, 70)"/>
<rect x="436.50" y="79.34" width="6.33" height="5.42" fill="rgb(42, 46, 172)"/>
<rect x="442.83" y="79.34" width="6.33" height="5.42" fill="rgb(80, 94, 198)"/>
<rect x="449.17" y="79.34" width="6.33" height="5.42" fill="rgb(80, 94, 198)"/>
<rect x="455.50" y="79.34" width="6.33" height="5.42" fill="rgb(186, 186, 94)"/>
<rect x="461.83" y="79.34" width="6.33" height="5.42" fill="rgb(208, 208, 82)"/>
<rect x="468.17" y="79.34" width="6.33" height="5.42" fill="rgb(208, 208, 82)"/>
<rect x="436.50" y="84.76" width="6.33" height="5.42" fill="rgb(42, 46, 172)"/>
<rect x="442.83" y="84.76" width="6.33" height="5.42" fill="rgb(128, 130, 138)"/>
<rect x="449.17" y="84.76" width="6.33" height="5.42" fill="rgb(80, 94, 198)"/>
<rect x="455.50" y="84.76" width="6.33" height="5.42" fill="rgb(186, 186, 94)"/>
<rect x="461.83" y="84.76" width="6.33" height="5.42" fill="rgb(208, 208, 82)"/>
<rect x="468.17" y="84.76" width="6.33" height="5.42" fill="rgb(186, 186, 94)"/>
<rect x="436.50" y="90.19" width="6.33" height="5.42" fill="rgb(42, 46, 172)"/>
<rect x="442.83" y="90.19" width="6.33" height="5.42" fill="rgb(108, 116, 170)"/>
<rect x="449.17" y="90.19" width="6.33" height="5.42" fill="rgb(80, 94, 198)"/>
<rect x="455.50" y="90.19" width="6.33" height="5.42" fill="rgb(186, 186, 94)"/>
<rect x="461.83" y="90.19" width="6.33" height="5.42" fill="rgb(108, 116, 170)"/>
<rect x="468.17" y="90.19" width="6.33" height="5.42" fill="rgb(228, 228, 70)"/>
<rect x="436.50" y="95.61" width="6.33" height="5.42" fill="rgb(80, 94, 198)"/>
<rect x="442.83" y="95.61" width="6.33" height="5.42" fill="rgb(108, 116, 170)"/>
<rect x="449.17" y="95.61" width="6.33" height="5.42" fill="rgb(54, 64, 192)"/>
<rect x="455.50" y="95.61" width="6.33" height="5.42" fill="rgb(208, 208, 82)"/>
<rect x="461.83" y="95.61" width="6.33" height="5.42" fill="rgb(128, 130, 138)"/>
<rect x="468.17" y="95.61" width="6.33" height="5.42" fill="rgb(208, 208, 82)"/>
<rect x="436.50" y="101.03" width="6.33" height="5.42" fill="rgb(54, 64, 192)"/>
<rect x="442.83" y="101.03" width="6.33" height="5.42" fill="rgb(80, 94, 198)"/>
<rect x="449.17" y="101.03" width="6.33" height="5.42" fill="rgb(80, 94, 198)"/>
<rect x="455.50" y="101.03" width="6.33" height="5.42" fill="rgb(208, 208, 82)"/>
<rect x="461.83" y="101.03" width="6.33" height="5.42" fill="rgb(128, 130, 138)"/>
<rect x="468.17" y="101.03" width="6.33" height="5.42" fill="rgb(208, 208, 82)"/>
<rect x="436.50" y="106.46" width="6.33" height="5.42" fill="rgb(42, 46, 172)"/>
<rect x="442.83" y="106.46" width="6.33" height="5.42" fill="rgb(108, 116, 170)"/>
<rect x="449.17" y="106.46" width="6.33" height="5.42" fill="rgb(80, 94, 198)"/>
<rect x="455.50" y="106.46" width="6.33" height="5.42" fill="rgb(228, 228, 70)"/>
<rect x="461.83" y="106.46" width="6.33" height="5.42" fill="rgb(128, 130, 138)"/>
<rect x="468.17" y="106.46" width="6.33" height="5.42" fill="rgb(186, 186, 94)"/>
<rect x="436.50" y="111.88" width="6.33" height="5.42" fill="rgb(54, 64, 192)"/>
<rect x="442.83" y="111.88" width="6.33" height="5.42" fill="rgb(80, 94, 198)"/>
<rect x="449.17" y="111.88" width="6.33" height="5.42" fill="rgb(80, 94, 198)"/>
<rect x="455.50" y="111.88" width="6.33" height="5.42" fill="rgb(228, 228, 70)"/>
<rect x="461.83" y="111.88" width="6.33" height="5.42" fill="rgb(128, 130, 138)"/>
<rect x="468.17" y="111.88" width="6.33" height="5.42" fill="rgb(208, 208, 82)"/>
<rect x="436.50" y="117.30" width="6.33" height="5.42" fill="rgb(54, 64, 192)"/>
<rect x="442.83" y="117.30" width="6.33" height="5.42" fill="rgb(80, 94, 198)"/>
<rect x="449.17" y="117.30" width="6.33" height="5.42" fill="rgb(108, 116, 170)"/>
<rect x="455.50" y="117.30" width="6.33" height="5.42" fill="rgb(228, 228, 70)"/>
<rect x="461.83" y="117.30" width="6.33" height="5.42" fill="rgb(128, 130, 138)"/>
<rect x="468.17" y="117.30" width="6.33" height="5.42" fill="rgb(186, 186, 94)"/>
<rect x="436.50" y="122.73" width="6.33" height="5.42" fill="rgb(160, 160, 110)"/>
<rect x="442.83" y="122.73" width="6.33" height="5.42" fill="rgb(54, 64, 192)"/>
<rect x="449.17" y="122.73" width="6.33" height="5.42" fill="rgb(42, 46, 172)"/>
<rect x="455.50" y="122.73" width="6.33" height="5.42" fill="rgb(160, 160, 110)"/>
<rect x="461.83" y="122.73" width="6.33" height="5.42" fill="rgb(208, 208, 82)"/>
<rect x="468.17" y="122.73" width="6.33" height="5.42" fill="rgb(208, 208, 82)"/>
<rect x="436.50" y="128.15" width="6.33" height="5.42" fill="rgb(160, 160, 110)"/>
<rect x="442.83" y="128.15" width="6.33" height="5.42" fill="rgb(80, 94, 198)"/>
<rect x="449.17" y="128.15" width="6.33" height="5.42" fill="rgb(42, 46, 172)"/>
<rect x="455.50" y="128.15" width="6.33" height="5.42" fill="rgb(160, 160, 110)"/>
<rect x="461.83" y="128.15" width="6.33" height="5.42" fill="rgb(208, 208, 82)"/>
<rect x="468.17" y="128.15" width="6.33" height="5.42" fill="rgb(186, 186, 94)"/>
<rect x="436.50" y="133.57" width="6.33" height="5.42" fill="rgb(160, 160, 110)"/>
<rect x="442.83" y="133.57" width="6.33" height="5.42" fill="rgb(80, 94, 198)"/>
<rect x="449.17" y="133.57" width="6.33" height="5.42" fill="rgb(42, 46, 172)"/>
<rect x="455.50" y="133.57" width="6.33" height="5.42" fill="rgb(186, 186, 94)"/>
<rect x="461.83" y="133.57" width="6.33" height="5.42" fill="rgb(208, 208, 82)"/>
<rect x="468.17" y="133.57" width="6.33" height="5.42" fill="rgb(208, 208, 82)"/>
<rect x="436.50" y="138.99" width="6.33" height="5.42" fill="rgb(160, 160, 110)"/>
<rect x="442.83" y="138.99" width="6.33" height="5.42" fill="rgb(80, 94, 198)"/>
<rect x="449.17" y="138.99" width="6.33" height="5.42" fill="rgb(42, 46, 172)"/>
<rect x="455.50" y="138.99" width="6.33" height="5.42" fill="rgb(186, 186, 94)"/>
<rect x="461.83" y="138.99" width="6.33" height="5.42" fill="rgb(208, 208, 82)"/>
<rect x="468.17" y="138.99" width="6.33" height="5.42" fill="rgb(186, 186, 94)"/>
<rect x="436.50" y="144.42" width="6.33" height="5.42" fill="rgb(160, 160, 110)"/>
<rect x="442.83" y="144.42" width="6.33" height="5.42" fill="rgb(80, 94, 198)"/>
<rect x="449.17" y="144.42" width="6.33" height="5.42" fill="rgb(42, 46, 172)"/>
<rect x="455.50" y="144.42" width="6.33" height="5.42" fill="rgb(186, 186, 94)"/>
<rect x="461.83" y="144.42" width="6.33" height="5.42" fill="rgb(208, 208, 82)"/>
<rect x="468.17" y="144.42" width="6.33" height="5.42" fill="rgb(186, 186, 94)"/>
<rect x="436.50" y="149.84" width="6.33" height="5.42" fill="rgb(160, 160, 110)"/>
<rect x="442.83" y="149.84" width="6.33" height="5.42" fill="rgb(80, 94, 198)"/>
<rect x="449.17" y="149.84" width="6.33" height="5.42" fill="rgb(42, 46, 172)"/>
<rect x="455.50" y="149.84" width="6.33" height="5.42" fill="rgb(208, 208, 82)"/>
<rect x="461.83" y="149.84" width="6.33" height="5.42" fill="rgb(128, 130, 138)"/>
<rect x="468.17" y="149.84" width="6.33" height="5.42" fill="rgb(208, 208, 82)"/>
<rect x="436.50" y="155.26" width="6.33" height="5.42" fill="rgb(128, 130, 138)"/>
<rect x="442.83" y="155.26" width="6.33" height="5.42" fill="rgb(80, 94, 198)"/>
<rect x="449.17" y="155.26" width="6.33" height="5.42" fill="rgb(42, 46, 172)"/>
<rect x="455.50" y="155.26" width="6.33" height="5.42" fill="rgb(208, 208, 82)"/>
<rect x="461.83" y="155.26" width="6.33" height="5.42" fill="rgb(128, 130, 138)"/>
<rect x="468.17" y="155.26" width="6.33" height="5.42" fill="rgb(186, 186, 94)"/>
<rect x="436.50" y="160.69" width="6.33" height="5.42" fill="rgb(128, 130, 138)"/>
<rect x="442.83" y="160.69" width="6.33" height="5.42" fill="rgb(80, 94, 198)"/>
<rect x="449.17" y="160.69" width="6.33" height="5.42" fill="rgb(42, 46, 172)"/>
<rect x="455.50" y="160.69" width="6.33" height="5.42" fill="rgb(186, 186, 94)"/>
<rect x="461.83" y="160.69" width="6.33" height="5.42" fill="rgb(128, 130, 138)"/>
<rect x="468.17" y="160.69" width="6.33" height="5.42" fill="rgb(208, 208, 82)"/>
<rect x="436.50" y="166.11" width="6.33" height="5.42" fill="rgb(128, 130, 138)"/>
<rect x="442.83" y="166.11" width="6.33" height="5.42" fill="rgb(80, 94, 198)"/>
<rect x="449.17" y="166.11" width="6.33" height="5.42" fill="rgb(42, 46, 172)"/>
<rect x="455.50" y="166.11" width="6.33" height="5.42" fill="rgb(208, 208, 82)"/>
<rect x="461.83" y="166.11" width="6.33" height="5.42" fill="rgb(108, 116, 170)"/>
<rect x="468.17" y="166.11" width="6.33" height="5.42" fill="rgb(208, 208, 82)"/>
<rect x="436.50" y="171.53" width="6.33" height="5.42" fill="rgb(128, 130, 138)"/>
<rect x="442.83" y="171.53" width="6.33" height="5.42" fill="rgb(80, 94, 198)"/>
<rect x="449.17" y="171.53" width="6.33" height="5.42" fill="rgb(42, 46, 172)"/>
<rect x="455.50" y="171.53" width="6.33" height="5.42" fill="rgb(208, 208, 82)"/>
<rect x="461.83" y="171.53" width="6.33" height="5.42" fill="rgb(128, 130, 138)"/>
<rect x="468.17" y="171.53" width="6.33" height="5.42" fill="rgb(208, 208, 82)"/>
<rect x="436.50" y="176.96" width="6.33" height="5.42" fill="rgb(128, 130, 138)"/>
<rect x="442.83" y="176.96" width="6.33" height="5.42" fill="rgb(54, 64, 192)"/>
<rect x="449.17" y="176.96" width="6.33" height="5.42" fill="rgb(42, 46, 172)"/>
<rect x="455.50" y="176.96" width="6.33" height="5.42" fill="rgb(208, 208, 82)"/>
<rect x="461.83" y="176.96" width="6.33" height="5.42" fill="rgb(128, 130, 138)"/>
<rect x="468.17" y="176.96" width="6.33" height="5.42" fill="rgb(186, 186, 94)"/>
<rect x="436.50" y="182.38" width="6.33" height="5.42" fill="rgb(128, 130, 138)"/>
<rect x="442.83" y="182.38" width="6.33" height="5.42" fill="rgb(108, 116, 170)"/>
<rect x="449.17" y="182.38" width="6.33" height="5.42" fill="rgb(42, 46, 172)"/>
<rect x="455.50" y="182.38" width="6.33" height="5.42" fill="rgb(186, 186, 94)"/>
<rect x="461.83" y="182.38" width="6.33" height="5.42" fill="rgb(128, 130, 138)"/>
<rect x="468.17" y="182.38" width="6.33" height="5.42" fill="rgb(208, 208, 82)"/>
<rect x="436.50" y="187.80" width="6.33" height="5.42" fill="rgb(128, 130, 138)"/>
<rect x="442.83" y="187.80" width="6.33" height="5.42" fill="rgb(80, 94, 198)"/>
<rect x="449.17" y="187.80" width="6.33" height="5.42" fill="rgb(42, 46, 172)"/>
<rect x="455.50" y="187.80" width="6.33" height="5.42" fill="rgb(186, 186, 94)"/>
<rect x="461.83" y="187.80" width="6.33" height="5.42" fill="rgb(128, 130, 138)"/>
<rect x="468.17" y="187.80" width="6.33" height="5.42" fill="rgb(228, 228, 70)"/>
<rect x="436.50" y="193.23" width="6.33" height="5.42" fill="rgb(128, 130, 138)"/>
<rect x="442.83" y="193.23" width="6.33" height="5.42" fill="rgb(80, 94, 198)"/>
<rect x="449.17" y="193.23" width="6.33" height="5.42" fill="rgb(42, 46, 172)"/>
<rect x="455.50" y="193.23" width="6.33" height="5.42" fill="rgb(186, 186, 94)"/>
<rect x="461.83" y="193.23" width="6.33" height="5.42" fill="rgb(128, 130, 138)"/>
<rect x="468.17" y="193.23" width="6.33" height="5.42" fill="rgb(208, 208, 82)"/>
<rect x="436.50" y="198.65" width="6.33" height="5.42" fill="rgb(128, 130, 138)"/>
<rect x="442.83" y="198.65" width="6.33" height="5.42" fill="rgb(80, 94, 198)"/>
<rect x="449.17" y="198.65" width="6.33" height="5.42" fill="rgb(42, 46, 172)"/>
<rect x="455.50" y="198.65" width="6.33" height="5.42" fill="rgb(186, 186, 94)"/>
<rect x="461.83" y="198.65" width="6.33" height="5.42" fill="rgb(108, 116, 170)"/>
<rect x="468.17" y="198.65" width="6.33" height="5.42" fill="rgb(208, 208, 82)"/>
<rect x="436.50" y="204.07" width="6.33" height="5.42" fill="rgb(128, 130, 138)"/>
<rect x="442.83" y="204.07" width="6.33" height="5.42" fill="rgb(80, 94, 198)"/>
<rect x="449.17" y="204.07" width="6.33" height="5.42" fill="rgb(42, 46, 172)"/>
<rect x="455.50" y="204.07" width="6.33" height="5.42" fill="rgb(186, 186, 94)"/>
<rect x="461.83" y="204.07" width="6.33" height="5.42" fill="rgb(128, 130, 138)"/>
<rect x="468.17" y="204.07" width="6.33" height="5.42" fill="rgb(228, 228, 70)"/>
<rect x="436.50" y="209.50" width="6.33" height="5.42" fill="rgb(128, 130, 138)"/>
<rect x="442.83" y="209.50" width="6.33" height="5.42" fill="rgb(80, 94, 198)"/>
<rect x="449.17" y="209.50" width="6.33" height="5.42" fill="rgb(42, 46, 172)"/>
<rect x="455.50" y="209.50" width="6.33" height="5.42" fill="rgb(186, 186, 94)"/>
<rect x="461.83" y="209.50" width="6.33" height="5.42" fill="rgb(160, 160, 110)"/>
<rect x="468.17" y="209.50" width="6.33" height="5.42" fill="rgb(208, 208, 82)"/>
<rect x="436.50" y="214.92" width="6.33" height="5.42" fill="rgb(108, 116, 170)"/>
<rect x="442.83" y="214.92" width="6.33" height="5.42" fill="rgb(80, 94, 198)"/>
<rect x="449.17" y="214.92" width="6.33" height="5.42" fill="rgb(42, 46, 172)"/>
<rect x="455.50" y="214.92" width="6.33" height="5.42" fill="rgb(186, 186, 94)"/>
<rect x="461.83" y="214.92" width="6.33" height="5.42" fill="rgb(160, 160, 110)"/>
<rect x="468.17" y="214.92" width="6.33" height="5.42" fill="rgb(208, 208, 82)"/>
<rect x="436.50" y="220.34" width="6.33" height="5.42" fill="rgb(108, 116, 170)"/>
<rect x="442.83" y="220.34" width="6.33" height="5.42" fill="rgb(80, 94, 198)"/>
<rect x="449.17" y="220.34" width="6.33" height="5.42" fill="rgb(42, 46, 172)"/>
<rect x="455.50" y="220.34" width="6.33" height="5.42" fill="rgb(186, 186, 94)"/>
<rect x="461.83" y="220.34" width="6.33" height="5.42" fill="rgb(160, 160, 110)"/>
<rect x="468.17" y="220.34" width="6.33" height="5.42" fill="rgb(228, 228, 70)"/>
<rect x="436.50" y="225.77" width="6.33" height="5.42" fill="rgb(108, 116, 170)"/>
<rect x="442.83" y="225.77" width="6.33" height="5.42" fill="rgb(80, 94, 198)"/>
<rect x="449.17" y="225.77" width="6.33" height="5.42" fill="rgb(42, 46, 172)"/>
<rect x="455.50" y="225.77" width="6.33" height="5.42" fill="rgb(186, 186, 94)"/>
<rect x="461.83" y="225.77" width="6.33" height="5.42" fill="rgb(160, 160, 110)"/>
<rect x="468.17" y="225.77" width="6.33" height="5.42" fill="rgb(208, 208, 82)"/>
<rect x="436.50" y="231.19" width="6.33" height="5.42" fill="rgb(80, 94, 198)"/>
<rect x="442.83" y="231.19" width="6.33" height="5.42" fill="rgb(80, 94, 198)"/>
<rect x="449.17" y="231.19" width="6.33" height="5.42" fill="rgb(42, 46, 172)"/>
<rect x="455.50" y="231.19" width="6.33" height="5.42" fill="rgb(186, 186, 94)"/>
<rect x="461.83" y="231.19" width="6.33" height="5.42" fill="rgb(128, 130, 138)"/>
<rect x="468.17" y="231.19" width="6.33" height="5.42" fill="rgb(208, 208, 82)"/>
<rect x="436.50" y="236.61" width="6.33" height="5.42" fill="rgb(80, 94, 198)"/>
<rect x="442.83" y="236.61" width="6.33" height="5.42" fill="rgb(108, 116, 170)"/>
<rect x="449.17" y="236.61" width="6.33" height="5.42" fill="rgb(42, 46, 172)"/>
<rect x="455.50" y="236.61" width="6.33" height="5.42" fill="rgb(160, 160, 110)"/>
<rect x="461.83" y="236.61" width="6.33" height="5.42" fill="rgb(128, 130, 138)"/>
<rect x="468.17" y="236.61" width="6.33" height="5.42" fill="rgb(228, 228, 70)"/>
<rect x="436.50" y="242.04" width="6.33" height="5.42" fill="rgb(108, 116, 170)"/>
<rect x="442.83" y="242.04" width="6.33" height="5.42" fill="rgb(108, 116, 170)"/>
<rect x="449.17" y="242.04" width="6.33" height="5.42" fill="rgb(42, 46, 172)"/>
<rect x="455.50" y="242.04" width="6.33" height="5.42" fill="rgb(160, 160, 110)"/>
<rect x="461.83" y="242.04" width="6.33" height="5.42" fill="rgb(160, 160, 110)"/>
<rect x="468.17" y="242.04" width="6.33" height="5.42" fill="rgb(228, 228, 70)"/>
<rect x="436.50" y="247.46" width="6.33" height="5.42" fill="rgb(80, 94, 198)"/>
<rect x="442.83" y="247.46" width="6.33" height="5.42" fill="rgb(80, 94, 198)"/>
<rect x="449.17" y="247.46" width="6.33" height="5.42" fill="rgb(54, 64, 192)"/>
<rect x="455.50" y="247.46" width="6.33" height="5.42" fill="rgb(160, 160, 110)"/>
<rect x="461.83" y="247.46" width="6.33" height="5.42" fill="rgb(160, 160, 110)"/>
<rect x="468.17" y="247.46" width="6.33" height="5.42" fill="rgb(228, 228, 70)"/>
<rect x="436.50" y="252.88" width="6.33" height="5.42" fill="rgb(80, 94, 198)"/>
<rect x="442.83" y="252.88" width="6.33" height="5.42" fill="rgb(108, 116, 170)"/>
<rect x="449.17" y="252.88" width="6.33" height="5.42" fill="rgb(42, 46, 172)"/>
<rect x="455.50" y="252.88" width="6.33" height="5.42" fill="rgb(160, 160, 110)"/>
<rect x="461.83" y="252.88" width="6.33" height="5.42" fill="rgb(160, 160, 110)"/>
<rect x="468.17" y="252.88" width="6.33" height="5.42" fill="rgb(228, 228, 70)"/>
<rect x="436.50" y="258.31" width="6.33" height="5.42" fill="rgb(80, 94, 198)"/>
<rect x="442.83" y="258.31" width="6.33" height="5.42" fill="rgb(108, 116, 170)"/>
<rect x="449.17" y="258.31" width="6.33" height="5.42" fill="rgb(42, 46, 172)"/>
<rect x="455.50" y="258.31" width="6.33" height="5.42" fill="rgb(160, 160, 110)"/>
<rect x="461.83" y="258.31" width="6.33" height="5.42" fill="rgb(160, 160, 110)"/>
<rect x="468.17" y="258.31" width="6.33" height="5.42" fill="rgb(228, 228, 70)"/>
<rect x="436.50" y="263.73" width="6.33" height="5.42" fill="rgb(108, 116, 170)"/>
<rect x="442.83" y="263.73" width="6.33" height="5.42" fill="rgb(108, 116, 170)"/>
<rect x="449.17" y="263.73" width="6.33" height="5.42" fill="rgb(42, 46, 172)"/>
<rect x="455.50" y="263.73" width="6.33" height="5.42" fill="rgb(160, 160, 110)"/>
<rect x="461.83" y="263.73" width="6.33" height="5.42" fill="rgb(128, 130, 138)"/>
<rect x="468.17" y="263.73" width="6.33" height="5.42" fill="rgb(208, 208, 82)"/>
<rect x="436.50" y="269.15" width="6.33" height="5.42" fill="rgb(80, 94, 198)"/>
<rect x="442.83" y="269.15" width="6.33" height="5.42" fill="rgb(108, 116, 170)"/>
<rect x="449.17" y="269.15" width="6.33" height="5.42" fill="rgb(42, 46, 172)"/>
<rect x="455.50" y="269.15" width="6.33" height="5.42" fill="rgb(186, 186, 94)"/>
<rect x="461.83" y="269.15" width="6.33" height="5.42" fill="rgb(128, 130, 138)"/>
<rect x="468.17" y="269.15" width="6.33" height="5.42" fill="rgb(228, 228, 70)"/>
<rect x="436.50" y="274.58" width="6.33" height="5.42" fill="rgb(80, 94, 198)"/>
<rect x="442.83" y="274.58" width="6.33" height="5.42" fill="rgb(108, 116, 170)"/>
<rect x="449.17" y="274.58" width="6.33" height="5.42" fill="rgb(42, 46, 172)"/>
<rect x="455.50" y="274.58" width="6.33" height="5.42" fill="rgb(160, 160, 110)"/>
<rect x="461.83" y="274.58" width="6.33" height="5.42" fill="rgb(186, 186, 94)"/>
<rect x="468.17" y="274.58" width="6.33" height="5.42" fill="rgb(208, 208, 82)"/>
<rect x="436.50" y="280.00" width="6.33" height="5.42" fill="rgb(108, 116, 170)"/>
<rect x="442.83" y="280.00" width="6.33" height="5.42" fill="rgb(80, 94, 198)"/>
<rect x="449.17" y="280.00" width="6.33" height="5.42" fill="rgb(42, 46, 172)"/>
<rect x="455.50" y="280.00" width="6.33" height="5.42" fill="rgb(160, 160, 110)"/>
<rect x="461.83" y="280.00" width="6.33" height="5.42" fill="rgb(186, 186, 94)"/>
<rect x="468.17" y="280.00" width="6.33" height="5.42" fill="rgb(208, 208, 82)"/>
<rect x="436.50" y="285.42" width="6.33" height="5.42" fill="rgb(108, 116, 170)"/>
<rect x="442.83" y="285.42" width="6.33" height="5.42" fill="rgb(80, 94, 198)"/>
<rect x="449.17" y="285.42" width="6.33" height="5.42" fill="rgb(42, 46, 172)"/>
<rect x="455.50" y="285.42" width="6.33" height="5.42" fill="rgb(160, 160, 110)"/>
<rect x="461.83" y="285.42" width="6.33" height="5.42" fill="rgb(186, 186, 94)"/>
<rect x="468.17" y="285.42" width="6.33" height="5.42" fill="rgb(208, 208, 82)"/>
<rect x="436.50" y="290.85" width="6.33" height="5.42" fill="rgb(128, 130, 138)"/>
<rect x="442.83" y="290.85" width="6.33" height="5.42" fill="rgb(80, 94, 198)"/>
<rect x="449.17" y="290.85" width="6.33" height="5.42" fill="rgb(42, 46, 172)"/>
<rect x="455.50" y="290.85" width="6.33" height="5.42" fill="rgb(160, 160, 110)"/>
<rect x="461.83" y="290.85" width="6.33" height="5.42" fill="rgb(186, 186, 94)"/>
<rect x="468.17" y="290.85" width="6.33" height="5.42" fill="rgb(186, 186, 94)"/>
<rect x="436.50" y="296.27" width="6.33" height="5.42" fill="rgb(42, 46, 172)"/>
<rect x="442.83" y="296.27" width="6.33" height="5.42" fill="rgb(80, 94, 198)"/>
<rect x="449.17" y="296.27" width="6.33" height="5.42" fill="rgb(128, 130, 138)"/>
<rect x="455.50" y="296.27" width="6.33" height="5.42" fill="rgb(160, 160, 110)"/>
<rect x="461.83" y="296.27" width="6.33" height="5.42" fill="rgb(208, 208, 82)"/>
<rect x="468.17" y="296.27" width="6.33" height="5.42" fill="rgb(186, 186, 94)"/>
<rect x="436.50" y="301.69" width="6.33" height="5.42" fill="rgb(42, 46, 172)"/>
<rect x="442.83" y="301.69" width="6.33" height="5.42" fill="rgb(80, 94, 198)"/>
<rect x="449.17" y="301.69" width="6.33" height="5.42" fill="rgb(108, 116, 170)"/>
<rect x="455.50" y="301.69" width="6.33" height="5.42" fill="rgb(160, 160, 110)"/>
<rect x="461.83" y="301.69" width="6.33" height="5.42" fill="rgb(208, 208, 82)"/>
<rect x="468.17" y="301.69" width="6.33" height="5.42" fill="rgb(160, 160, 110)"/>
<rect x="436.50" y="307.12" width="6.33" height="5.42" fill="rgb(54, 64, 192)"/>
<rect x="442.83" y="307.12" width="6.33" height="5.42" fill="rgb(80, 94, 198)"/>
<rect x="449.17" y="307.12" width="6.33" height="5.42" fill="rgb(108, 116, 170)"/>
<rect x="455.50" y="307.12" width="6.33" height="5.42" fill="rgb(160, 160, 110)"/>
<rect x="461.83" y="307.12" width="6.33" height="5.42" fill="rgb(208, 208, 82)"/>
<rect x="468.17" y="307.12" width="6.33" height="5.42" fill="rgb(128, 130, 138)"/>
<rect x="436.50" y="312.54" width="6.33" height="5.42" fill="rgb(108, 116, 170)"/>
<rect x="442.83" y="312.54" width="6.33" height="5.42" fill="rgb(54, 64, 192)"/>
<rect x="449.17" y="312.54" width="6.33" height="5.42" fill="rgb(108, 116, 170)"/>
<rect x="455.50" y="312.54" width="6.33" height="5.42" fill="rgb(160, 160, 110)"/>
<rect x="461.83" y="312.54" width="6.33" height="5.42" fill="rgb(208, 208, 82)"/>
<rect x="468.17" y="312.54" width="6.33" height="5.42" fill="rgb(160, 160, 110)"/>
<rect x="436.50" y="317.96" width="6.33" height="5.42" fill="rgb(108, 116, 170)"/>
<rect x="442.83" y="317.96" width="6.33" height="5.42" fill="rgb(54, 64, 192)"/>
<rect x="449.17" y="317.96" width="6.33" height="5.42" fill="rgb(80, 94, 198)"/>
<rect x="455.50" y="317.96" width="6.33" height="5.42" fill="rgb(186, 186, 94)"/>
<rect x="461.83" y="317.96" width="6.33" height="5.42" fill="rgb(208, 208, 82)"/>
<rect x="468.17" y="317.96" width="6.33" height="5.42" fill="rgb(128, 130, 138)"/>
<rect x="436.50" y="323.38" width="6.33" height="5.42" fill="rgb(80, 94, 198)"/>
<rect x="442.83" y="323.38" width="6.33" height="5.42" fill="rgb(108, 116, 170)"/>
<rect x="449.17" y="323.38" width="6.33" height="5.42" fill="rgb(54, 64, 192)"/>
<rect x="455.50" y="323.38" width="6.33" height="5.42" fill="rgb(186, 186, 94)"/>
<rect x="461.83" y="323.38" width="6.33" height="5.42" fill="rgb(208, 208, 82)"/>
<rect x="468.17" y="323.38" width="6.33" height="5.42" fill="rgb(186, 186, 94)"/>
<rect x="436.50" y="328.81" width="6.33" height="5.42" fill="rgb(80, 94, 198)"/>
<rect x="442.83" y="328.81" width="6.33" height="5.42" fill="rgb(108, 116, 170)"/>
<rect x="449.17" y="328.81" width="6.33" height="5.42" fill="rgb(54, 64, 192)"/>
<rect x="455.50" y="328.81" width="6.33" height="5.42" fill="rgb(186, 186, 94)"/>
<rect x="461.83" y="328.81" width="6.33" height="5.42" fill="rgb(208, 208, 82)"/>
<rect x="468.17" y="328.81" width="6.33" height="5.42" fill="rgb(160, 160, 110)"/>
<rect x="436.50" y="334.23" width="6.33" height="5.42" fill="rgb(108, 116, 170)"/>
<rect x="442.83" y="334.23" width="6.33" height="5.42" fill="rgb(80, 94, 198)"/>
<rect x="449.17" y="334.23" width="6.33" height="5.42" fill="rgb(54, 64, 192)"/>
<rect x="455.50" y="334.23" width="6.33" height="5.42" fill="rgb(186, 186, 94)"/>
<rect x="461.83" y="334.23" width="6.33" height="5.42" fill="rgb(208, 208, 82)"/>
<rect x="468.17" y="334.23" width="6.33" height="5.42" fill="rgb(160, 160, 110)"/>
<rect x="436.50" y="339.65" width="6.33" height="5.42" fill="rgb(80, 94, 198)"/>
<rect x="442.83" y="339.65" width="6.33" height="5.42" fill="rgb(80, 94, 198)"/>
<rect x="449.17" y="339.65" width="6.33" height="5.42" fill="rgb(54, 64, 192)"/>
<rect x="455.50" y="339.65" width="6.33" height="5.42" fill="rgb(186, 186, 94)"/>
<rect x="461.83" y="339.65" width="6.33" height="5.42" fill="rgb(208, 208, 82)"/>
<rect x="468.17" y="339.65" width="6.33" height="5.42" fill="rgb(186, 186, 94)"/>
<rect x="436.50" y="345.08" width="6.33" height="5.42" fill="rgb(80, 94, 198)"/>
<rect x="442.83" y="345.08" width="6.33" height="5.42" fill="rgb(80, 94, 198)"/>
<rect x="449.17" y="345.08" width="6.33" height="5.42" fill="rgb(54, 64, 192)"/>
<rect x="455.50" y="345.08" width="6.33" height="5.42" fill="rgb(186, 186, 94)"/>
<rect x="461.83" y="345.08" width="6.33" height="5.42" fill="rgb(186, 186, 94)"/>
<rect x="468.17" y="345.08" width="6.33" height="5.42" fill="rgb(160, 160, 110)"/>
<rect x="436.50" y="350.50" width="6.33" height="5.42" fill="rgb(80, 94, 198)"/>
<rect x="442.83" y="350.50" width="6.33" height="5.42" fill="rgb(108, 116, 170)"/>
<rect x="449.17" y="350.50" width="6.33" height="5.42" fill="rgb(54, 64, 192)"/>
<rect x="455.50" y="350.50" width="6.33" height="5.42" fill="rgb(186, 186, 94)"/>
<rect x="461.83" y="350.50" width="6.33" height="5.42" fill="rgb(208, 208, 82)"/>
<rect x="468.17" y="350.50" width="6.33" height="5.42" fill="rgb(128, 130, 138)"/>
<rect x="436.50" y="355.92" width="6.33" height="5.42" fill="rgb(80, 94, 198)"/>
<rect x="442.83" y="355.92" width="6.33" height="5.42" fill="rgb(54, 64, 192)"/>
<rect x="449.17" y="355.92" width="6.33" height="5.42" fill="rgb(54, 64, 192)"/>
<rect x="455.50" y="355.92" width="6.33" height="5.42" fill="rgb(228, 228, 70)"/>
<rect x="461.83" y="355.92" width="6.33" height="5.42" fill="rgb(186, 186, 94)"/>
<rect x="468.17" y="355.92" width="6.33" height="5.42" fill="rgb(128, 130, 138)"/>
<rect x="436.50" y="361.35" width="6.33" height="5.42" fill="rgb(128, 130, 138)"/>
<rect x="442.83" y="361.35" width="6.33" height="5.42" fill="rgb(54, 64, 192)"/>
<rect x="449.17" y="361.35" width="6.33" height="5.42" fill="rgb(54, 64, 192)"/>
<rect x="455.50" y="361.35" width="6.33" height="5.42" fill="rgb(208, 208, 82)"/>
<rect x="461.83" y="361.35" width="6.33" height="5.42" fill="rgb(186, 186, 94)"/>
<rect x="468.17" y="361.35" width="6.33" height="5.42" fill="rgb(128, 130, 138)"/>
<rect x="436.50" y="366.77" width="6.33" height="5.42" fill="rgb(128, 130, 138)"/>
<rect x="442.83" y="366.77" width="6.33" height="5.42" fill="rgb(54, 64, 192)"/>
<rect x="449.17" y="366.77" width="6.33" height="5.42" fill="rgb(54, 64, 192)"/>
<rect x="455.50" y="366.77" width="6.33" height="5.42" fill="rgb(208, 208, 82)"/>
<rect x="461.83" y="366.77" width="6.33" height="5.42" fill="rgb(160, 160, 110)"/>
<rect x="468.17" y="366.77" width="6.33" height="5.42" fill="rgb(186, 186, 94)"/>
<rect x="436.50" y="372.19" width="6.33" height="5.42" fill="rgb(80, 94, 198)"/>
<rect x="442.83" y="372.19" width="6.33" height="5.42" fill="rgb(80, 94, 198)"/>
<rect x="449.17" y="372.19" width="6.33" height="5.42" fill="rgb(54, 64, 192)"/>
<rect x="455.50" y="372.19" width="6.33" height="5.42" fill="rgb(208, 208, 82)"/>
<rect x="461.83" y="372.19" width="6.33" height="5.42" fill="rgb(160, 160, 110)"/>
<rect x="468.17" y="372.19" width="6.33" height="5.42" fill="rgb(186, 186, 94)"/>
<rect x="436.50" y="377.62" width="6.33" height="5.42" fill="rgb(54, 64, 192)"/>
<rect x="442.83" y="377.62" width="6.33" height="5.42" fill="rgb(54, 64, 192)"/>
<rect x="449.17" y="377.62" width="6.33" height="5.42" fill="rgb(54, 64, 192)"/>
<rect x="455.50" y="377.62" width="6.33" height="5.42" fill="rgb(208, 208, 82)"/>
<rect x="461.83" y="377.62" width="6.33" height="5.42" fill="rgb(160, 160, 110)"/>
<rect x="468.17" y="377.62" width="6.33" height="5.42" fill="rgb(186, 186, 94)"/>
<rect x="436.50" y="383.04" width="6.33" height="5.42" fill="rgb(80, 94, 198)"/>
<rect x="442.83" y="383.04" width="6.33" height="5.42" fill="rgb(54, 64, 192)"/>
<rect x="449.17" y="383.04" width="6.33" height="5.42" fill="rgb(54, 64, 192)"/>
<rect x="455.50" y="383.04" width="6.33" height="5.42" fill="rgb(208, 208, 82)"/>
<rect x="461.83" y="383.04" width="6.33" height="5.42" fill="rgb(160, 160, 110)"/>
<rect x="468.17" y="383.04" width="6.33" height="5.42" fill="rgb(186, 186, 94)"/>
<rect x="436.50" y="388.46" width="6.33" height="5.42" fill="rgb(80, 94, 198)"/>
<rect x="442.83" y="388.46" width="6.33" height="5.42" fill="rgb(80, 94, 198)"/>
<rect x="449.17" y="388.46" width="6.33" height="5.42" fill="rgb(54, 64, 192)"/>
<rect x="455.50" y="388.46" width="6.33" height="5.42" fill="rgb(208, 208, 82)"/>
<rect x="461.83" y="388.46" width="6.33" height="5.42" fill="rgb(160, 160, 110)"/>
<rect x="468.17" y="388.46" width="6.33" height="5.42" fill="rgb(186, 186, 94)"/>
<rect x="436.50" y="393.89" width="6.33" height="5.42" fill="rgb(80, 94, 198)"/>
<rect x="442.83" y="393.89" width="6.33" height="5.42" fill="rgb(80, 94, 198)"/>
<rect x="449.17" y="393.89" width="6.33" height="5.42" fill="rgb(54, 64, 192)"/>
<rect x="455.50" y="393.89" width="6.33" height="5.42" fill="rgb(208, 208, 82)"/>
<rect x="461.83" y="393.89" width="6.33" height="5.42" fill="rgb(160, 160, 110)"/>
<rect x="468.17" y="393.89" width="6.33" height="5.42" fill="rgb(186, 186, 94)"/>
<rect x="436.50" y="399.31" width="6.33" height="5.42" fill="rgb(108, 116, 170)"/>
<rect x="442.83" y="399.31" width="6.33" height="5.42" fill="rgb(108, 116, 170)"/>
<rect x="449.17" y="399.31" width="6.33" height="5.42" fill="rgb(54, 64, 192)"/>
<rect x="455.50" y="399.31" width="6.33" height="5.42" fill="rgb(208, 208, 82)"/>
<rect x="461.83" y="399.31" width="6.33" height="5.42" fill="rgb(160, 160, 110)"/>
<rect x="468.17" y="399.31" width="6.33" height="5.42" fill="rgb(186, 186, 94)"/>
<rect x="436.50" y="404.73" width="6.33" height="5.42" fill="rgb(108, 116, 170)"/>
<rect x="442.83" y="404.73" width="6.33" height="5.42" fill="rgb(108, 116, 170)"/>
<rect x="449.17" y="404.73" width="6.33" height="5.42" fill="rgb(54, 64, 192)"/>
<rect x="455.50" y="404.73" width="6.33" height="5.42" fill="rgb(228, 228, 70)"/>
<rect x="461.83" y="404.73" width="6.33" height="5.42" fill="rgb(160, 160, 110)"/>
<rect x="468.17" y="404.73" width="6.33" height="5.42" fill="rgb(160, 160, 110)"/>
<rect x="436.50" y="410.16" width="6.33" height="5.42" fill="rgb(80, 94, 198)"/>
<rect x="442.83" y="410.16" width="6.33" height="5.42" fill="rgb(80, 94, 198)"/>
<rect x="449.17" y="410.16" width="6.33" height="5.42" fill="rgb(54, 64, 192)"/>
<rect x="455.50" y="410.16" width="6.33" height="5.42" fill="rgb(228, 228, 70)"/>
<rect x="461.83" y="410.16" width="6.33" height="5.42" fill="rgb(160, 160, 110)"/>
<rect x="468.17" y="410.16" width="6.33" height="5.42" fill="rgb(160, 160, 110)"/>
<rect x="436.50" y="415.58" width="6.33" height="5.42" fill="rgb(108, 116, 170)"/>
<rect x="442.83" y="415.58" width="6.33" height="5.42" fill="rgb(108, 116, 170)"/>
<rect x="449.17" y="415.58" width="6.33" height="5.42" fill="rgb(54, 64, 192)"/>
<rect x="455.50" y="415.58" width="6.33" height="5.42" fill="rgb(208, 208, 82)"/>
<rect x="461.83" y="415.58" width="6.33" height="5.42" fill="rgb(128, 130, 138)"/>
<rect x="468.17" y="415.58" width="6.33" height="5.42" fill="rgb(186, 186, 94)"/>
<rect x="436.50" y="421.00" width="6.33" height="5.42" fill="rgb(108, 116, 170)"/>
<rect x="442.83" y="421.00" width="6.33" height="5.42" fill="rgb(108, 116, 170)"/>
<rect x="449.17" y="421.00" width="6.33" height="5.42" fill="rgb(54, 64, 192)"/>
<rect x="455.50" y="421.00" width="6.33" height="5.42" fill="rgb(208, 208, 82)"/>
<rect x="461.83" y="421.00" width="6.33" height="5.42" fill="rgb(160, 160, 110)"/>
<rect x="468.17" y="421.00" width="6.33" height="5.42" fill="rgb(186, 186, 94)"/>
<rect x="436.50" y="426.43" width="6.33" height="5.42" fill="rgb(108, 116, 170)"/>
<rect x="442.83" y="426.43" width="6.33" height="5.42" fill="rgb(108, 116, 170)"/>
<rect x="449.17" y="426.43" width="6.33" height="5.42" fill="rgb(42, 46, 172)"/>
<rect x="455.50" y="426.43" width="6.33" height="5.42" fill="rgb(228, 228, 70)"/>
<rect x="461.83" y="426.43" width="6.33" height="5.42" fill="rgb(160, 160, 110)"/>
<rect x="468.17" y="426.43" width="6.33" height="5.42" fill="rgb(186, 186, 94)"/>
<rect x="436.50" y="431.85" width="6.33" height="5.42" fill="rgb(80, 94, 198)"/>
<rect x="442.83" y="431.85" width="6.33" height="5.42" fill="rgb(80, 94, 198)"/>
<rect x="449.17" y="431.85" width="6.33" height="5.42" fill="rgb(42, 46, 172)"/>
<rect x="455.50" y="431.85" width="6.33" height="5.42" fill="rgb(228, 228, 70)"/>
<rect x="461.83" y="431.85" width="6.33" height="5.42" fill="rgb(160, 160, 110)"/>
<rect x="468.17" y="431.85" width="6.33" height="5.42" fill="rgb(186, 186, 94)"/>
<rect x="436.50" y="437.27" width="6.33" height="5.42" fill="rgb(54, 64, 192)"/>
<rect x="442.83" y="437.27" width="6.33" height="5.42" fill="rgb(54, 64, 192)"/>
<rect x="449.17" y="437.27" width="6.33" height="5.42" fill="rgb(108, 116, 170)"/>
<rect x="455.50" y="437.27" width="6.33" height="5.42" fill="rgb(228, 228, 70)"/>
<rect x="461.83" y="437.27" width="6.33" height="5.42" fill="rgb(186, 186, 94)"/>
<rect x="468.17" y="437.27" width="6.33" height="5.42" fill="rgb(128, 130, 138)"/>
<rect x="436.50" y="442.70" width="6.33" height="5.42" fill="rgb(54, 64, 192)"/>
<rect x="442.83" y="442.70" width="6.33" height="5.42" fill="rgb(80, 94, 198)"/>
<rect x="449.17" y="442.70" width="6.33" height="5.42" fill="rgb(80, 94, 198)"/>
<rect x="455.50" y="442.70" width="6.33" height="5.42" fill="rgb(228, 228, 70)"/>
<rect x="461.83" y="442.70" width="6.33" height="5.42" fill="rgb(186, 186, 94)"/>
<rect x="468.17" y="442.70" width="6.33" height="5.42" fill="rgb(128, 130, 138)"/>
<rect x="436.50" y="448.12" width="6.33" height="5.42" fill="rgb(186, 186, 94)"/>
<rect x="442.83" y="448.12" width="6.33" height="5.42" fill="rgb(160, 160, 110)"/>
<rect x="449.17" y="448.12" width="6.33" height="5.42" fill="rgb(208, 208, 82)"/>
<rect x="455.50" y="448.12" width="6.33" height="5.42" fill="rgb(80, 94, 198)"/>
<rect x="461.83" y="448.12" width="6.33" height="5.42" fill="rgb(80, 94, 198)"/>
<rect x="468.17" y="448.12" width="6.33" height="5.42" fill="rgb(54, 64, 192)"/>
<rect x="436.50" y="453.54" width="6.33" height="5.42" fill="rgb(186, 186, 94)"/>
<rect x="442.83" y="453.54" width="6.33" height="5.42" fill="rgb(208, 208, 82)"/>
<rect x="449.17" y="453.54" width="6.33" height="5.42" fill="rgb(186, 186, 94)"/>
<rect x="455.50" y="453.54" width="6.33" height="5.42" fill="rgb(80, 94, 198)"/>
<rect x="461.83" y="453.54" width="6.33" height="5.42" fill="rgb(80, 94, 198)"/>
<rect x="468.17" y="453.54" width="6.33" height="5.42" fill="rgb(54, 64, 192)"/>
<rect x="436.50" y="458.97" width="6.33" height="5.42" fill="rgb(208, 208, 82)"/>
<rect x="442.83" y="458.97" width="6.33" height="5.42" fill="rgb(186, 186, 94)"/>
<rect x="449.17" y="458.97" width="6.33" height="5.42" fill="rgb(186, 186, 94)"/>
<rect x="455.50" y="458.97" width="6.33" height="5.42" fill="rgb(80, 94, 198)"/>
<rect x="461.83" y="458.97" width="6.33" height="5.42" fill="rgb(80, 94, 198)"/>
<rect x="468.17" y="458.97" width="6.33" height="5.42" fill="rgb(108, 116, 170)"/>
<rect x="436.50" y="464.39" width="6.33" height="5.42" fill="rgb(160, 160, 110)"/>
<rect x="442.83" y="464.39" width="6.33" height="5.42" fill="rgb(186, 186, 94)"/>
<rect x="449.17" y="464.39" width="6.33" height="5.42" fill="rgb(208, 208, 82)"/>
<rect x="455.50" y="464.39" width="6.33" height="5.42" fill="rgb(108, 116, 170)"/>
<rect x="461.83" y="464.39" width="6.33" height="5.42" fill="rgb(80, 94, 198)"/>
<rect x="468.17" y="464.39" width="6.33" height="5.42" fill="rgb(54, 64, 192)"/>
<rect x="436.50" y="469.81" width="6.33" height="5.42" fill="rgb(160, 160, 110)"/>
<rect x="442.83" y="469.81" width="6.33" height="5.42" fill="rgb(208, 208, 82)"/>
<rect x="449.17" y="469.81" width="6.33" height="5.42" fill="rgb(208, 208, 82)"/>
<rect x="455.50" y="469.81" width="6.33" height="5.42" fill="rgb(108, 116, 170)"/>
<rect x="461.83" y="469.81" width="6.33" height="5.42" fill="rgb(80, 94, 198)"/>
<rect x="468.17" y="469.81" width="6.33" height="5.42" fill="rgb(54, 64, 192)"/>
<rect x="436.50" y="475.24" width="6.33" height="5.42" fill="rgb(160, 160, 110)"/>
<rect x="442.83" y="475.24" width="6.33" height="5.42" fill="rgb(186, 186, 94)"/>
<rect x="449.17" y="475.24" width="6.33" height="5.42" fill="rgb(208, 208, 82)"/>
<rect x="455.50" y="475.24" width="6.33" height="5.42" fill="rgb(108, 116, 170)"/>
<rect x="461.83" y="475.24" width="6.33" height="5.42" fill="rgb(128, 130, 138)"/>
<rect x="468.17" y="475.24" width="6.33" height="5.42" fill="rgb(54, 64, 192)"/>
<rect x="436.50" y="480.66" width="6.33" height="5.42" fill="rgb(208, 208, 82)"/>
<rect x="442.83" y="480.66" width="6.33" height="5.42" fill="rgb(208, 208, 82)"/>
<rect x="449.17" y="480.66" width="6.33" height="5.42" fill="rgb(160, 160, 110)"/>
<rect x="455.50" y="480.66" width="6.33" height="5.42" fill="rgb(80, 94, 198)"/>
<rect x="461.83" y="480.66" width="6.33" height="5.42" fill="rgb(108, 116, 170)"/>
<rect x="468.17" y="480.66" width="6.33" height="5.42" fill="rgb(42, 46, 172)"/>
<rect x="436.50" y="486.08" width="6.33" height="5.42" fill="rgb(186, 186, 94)"/>
<rect x="442.83" y="486.08" width="6.33" height="5.42" fill="rgb(160, 160, 110)"/>
<rect x="449.17" y="486.08" width="6.33" height="5.42" fill="rgb(208, 208, 82)"/>
<rect x="455.50" y="486.08" width="6.33" height="5.42" fill="rgb(80, 94, 198)"/>
<rect x="461.83" y="486.08" width="6.33" height="5.42" fill="rgb(108, 116, 170)"/>
<rect x="468.17" y="486.08" width="6.33" height="5.42" fill="rgb(42, 46, 172)"/>
<rect x="436.50" y="491.51" width="6.33" height="5.42" fill="rgb(228, 228, 70)"/>
<rect x="442.83" y="491.51" width="6.33" height="5.42" fill="rgb(160, 160, 110)"/>
<rect x="449.17" y="491.51" width="6.33" height="5.42" fill="rgb(160, 160, 110)"/>
<rect x="455.50" y="491.51" width="6.33" height="5.42" fill="rgb(108, 116, 170)"/>
<rect x="461.83" y="491.51" width="6.33" height="5.42" fill="rgb(80, 94, 198)"/>
<rect x="468.17" y="491.51" width="6.33" height="5.42" fill="rgb(42, 46, 172)"/>
<rect x="436.50" y="496.93" width="6.33" height="5.42" fill="rgb(160, 160, 110)"/>
<rect x="442.83" y="496.93" width="6.33" height="5.42" fill="rgb(228, 228, 70)"/>
<rect x="449.17" y="496.93" width="6.33" height="5.42" fill="rgb(160, 160, 110)"/>
<rect x="455.50" y="496.93" width="6.33" height="5.42" fill="rgb(80, 94, 198)"/>
<rect x="461.83" y="496.93" width="6.33" height="5.42" fill="rgb(80, 94, 198)"/>
<rect x="468.17" y="496.93" width="6.33" height="5.42" fill="rgb(80, 94, 198)"/>
<rect x="436.50" y="502.35" width="6.33" height="5.42" fill="rgb(208, 208, 82)"/>
<rect x="442.83" y="502.35" width="6.33" height="5.42" fill="rgb(208, 208, 82)"/>
<rect x="449.17" y="502.35" width="6.33" height="5.42" fill="rgb(128, 130, 138)"/>
<rect x="455.50" y="502.35" width="6.33" height="5.42" fill="rgb(108, 116, 170)"/>
<rect x="461.83" y="502.35" width="6.33" height="5.42" fill="rgb(42, 46, 172)"/>
<rect x="468.17" y="502.35" width="6.33" height="5.42" fill="rgb(128, 130, 138)"/>
<rect x="436.50" y="507.77" width="6.33" height="5.42" fill="rgb(208, 208, 82)"/>
<rect x="442.83" y="507.77" width="6.33" height="5.42" fill="rgb(208, 208, 82)"/>
<rect x="449.17" y="507.77" width="6.33" height="5.42" fill="rgb(128, 130, 138)"/>
<rect x="455.50" y="507.77" width="6.33" height="5.42" fill="rgb(108, 116, 170)"/>
<rect x="461.83" y="507.77" width="6.33" height="5.42" fill="rgb(42, 46, 172)"/>
<rect x="468.17" y="507.77" width="6.33" height="5.42" fill="rgb(128, 130, 138)"/>
<rect x="436.50" y="513.20" width="6.33" height="5.42" fill="rgb(186, 186, 94)"/>
<rect x="442.83" y="513.20" width="6.33" height="5.42" fill="rgb(208, 208, 82)"/>
<rect x="449.17" y="513.20" width="6.33" height="5.42" fill="rgb(128, 130, 138)"/>
<rect x="455.50" y="513.20" width="6.33" height="5.42" fill="rgb(160, 160, 110)"/>
<rect x="461.83" y="513.20" width="6.33" height="5.42" fill="rgb(42, 46, 172)"/>
<rect x="468.17" y="513.20" width="6.33" height="5.42" fill="rgb(80, 94, 198)"/>
<rect x="436.50" y="518.62" width="6.33" height="5.42" fill="rgb(208, 208, 82)"/>
<rect x="442.83" y="518.62" width="6.33" height="5.42" fill="rgb(186, 186, 94)"/>
<rect x="449.17" y="518.62" width="6.33" height="5.42" fill="rgb(128, 130, 138)"/>
<rect x="455.50" y="518.62" width="6.33" height="5.42" fill="rgb(108, 116, 170)"/>
<rect x="461.83" y="518.62" width="6.33" height="5.42" fill="rgb(42, 46, 172)"/>
<rect x="468.17" y="518.62" width="6.33" height="5.42" fill="rgb(80, 94, 198)"/>
<rect x="436.50" y="524.04" width="6.33" height="5.42" fill="rgb(208, 208, 82)"/>
<rect x="442.83" y="524.04" width="6.33" height="5.42" fill="rgb(208, 208, 82)"/>
<rect x="449.17" y="524.04" width="6.33" height="5.42" fill="rgb(128, 130, 138)"/>
<rect x="455.50" y="524.04" width="6.33" height="5.42" fill="rgb(108, 116, 170)"/>
<rect x="461.83" y="524.04" width="6.33" height="5.42" fill="rgb(42, 46, 172)"/>
<rect x="468.17" y="524.04" width="6.33" height="5.42" fill="rgb(80, 94, 198)"/>
<rect x="436.50" y="529.47" width="6.33" height="5.42" fill="rgb(186, 186, 94)"/>
<rect x="442.83" y="529.47" width="6.33" height="5.42" fill="rgb(208, 208, 82)"/>
<rect x="449.17" y="529.47" width="6.33" height="5.42" fill="rgb(128, 130, 138)"/>
<rect x="455.50" y="529.47" width="6.33" height="5.42" fill="rgb(108, 116, 170)"/>
<rect x="461.83" y="529.47" width="6.33" height="5.42" fill="rgb(42, 46, 172)"/>
<rect x="468.17" y="529.47" width="6.33" height="5.42" fill="rgb(80, 94, 198)"/>
<rect x="436.50" y="534.89" width="6.33" height="5.42" fill="rgb(228, 228, 70)"/>
<rect x="442.83" y="534.89" width="6.33" height="5.42" fill="rgb(128, 130, 138)"/>
<rect x="449.17" y="534.89" width="6.33" height="5.42" fill="rgb(160, 160, 110)"/>
<rect x="455.50" y="534.89" width="6.33" height="5.42" fill="rgb(80, 94, 198)"/>
<rect x="461.83" y="534.89" width="6.33" height="5.42" fill="rgb(42, 46, 172)"/>
<rect x="468.17" y="534.89" width="6.33" height="5.42" fill="rgb(108, 116, 170)"/>
<rect x="436.50" y="540.31" width="6.33" height="5.42" fill="rgb(208, 208, 82)"/>
<rect x="442.83" y="540.31" width="6.33" height="5.42" fill="rgb(160, 160, 110)"/>
<rect x="449.17" y="540.31" width="6.33" height="5.42" fill="rgb(186, 186, 94)"/>
<rect x="455.50" y="540.31" width="6.33" height="5.42" fill="rgb(80, 94, 198)"/>
<rect x="461.83" y="540.31" width="6.33" height="5.42" fill="rgb(42, 46, 172)"/>
<rect x="468.17" y="540.31" width="6.33" height="5.42" fill="rgb(128, 130, 138)"/>
<rect x="436.50" y="545.74" width="6.33" height="5.42" fill="rgb(208, 208, 82)"/>
<rect x="442.83" y="545.74" width="6.33" height="5.42" fill="rgb(186, 186, 94)"/>
<rect x="449.17" y="545.74" width="6.33" height="5.42" fill="rgb(160, 160, 110)"/>
<rect x="455.50" y="545.74" width="6.33" height="5.42" fill="rgb(108, 116, 170)"/>
<rect x="461.83" y="545.74" width="6.33" height="5.42" fill="rgb(42, 46, 172)"/>
<rect x="468.17" y="545.74" width="6.33" height="5.42" fill="rgb(108, 116, 170)"/>
<rect x="436.50" y="551.16" width="6.33" height="5.42" fill="rgb(208, 208, 82)"/>
<rect x="442.83" y="551.16" width="6.33" height="5.42" fill="rgb(208, 208, 82)"/>
<rect x="449.17" y="551.16" width="6.33" height="5.42" fill="rgb(160, 160, 110)"/>
<rect x="455.50" y="551.16" width="6.33" height="5.42" fill="rgb(108, 116, 170)"/>
<rect x="461.83" y="551.16" width="6.33" height="5.42" fill="rgb(42, 46, 172)"/>
<rect x="468.17" y="551.16" width="6.33" height="5.42" fill="rgb(108, 116, 170)"/>
<rect x="436.50" y="556.58" width="6.33" height="5.42" fill="rgb(208, 208, 82)"/>
<rect x="442.83" y="556.58" width="6.33" height="5.42" fill="rgb(186, 186, 94)"/>
<rect x="449.17" y="556.58" width="6.33" height="5.42" fill="rgb(160, 160, 110)"/>
<rect x="455.50" y="556.58" width="6.33" height="5.42" fill="rgb(80, 94, 198)"/>
<rect x="461.83" y="556.58" width="6.33" height="5.42" fill="rgb(42, 46, 172)"/>
<rect x="468.17" y="556.58" width="6.33" height="5.42" fill="rgb(128, 130, 138)"/>
<rect x="436.50" y="562.01" width="6.33" height="5.42" fill="rgb(186, 186, 94)"/>
<rect x="442.83" y="562.01" width="6.33" height="5.42" fill="rgb(208, 208, 82)"/>
<rect x="449.17" y="562.01" width="6.33" height="5.42" fill="rgb(160, 160, 110)"/>
<rect x="455.50" y="562.01" width="6.33" height="5.42" fill="rgb(42, 46, 172)"/>
<rect x="461.83" y="562.01" width="6.33" height="5.42" fill="rgb(80, 94, 198)"/>
<rect x="468.17" y="562.01" width="6.33" height="5.42" fill="rgb(128, 130, 138)"/>
<rect x="436.50" y="567.43" width="6.33" height="5.42" fill="rgb(208, 208, 82)"/>
<rect x="442.83" y="567.43" width="6.33" height="5.42" fill="rgb(186, 186, 94)"/>
<rect x="449.17" y="567.43" width="6.33" height="5.42" fill="rgb(160, 160, 110)"/>
<rect x="455.50" y="567.43" width="6.33" height="5.42" fill="rgb(42, 46, 172)"/>
<rect x="461.83" y="567.43" width="6.33" height="5.42" fill="rgb(54, 64, 192)"/>
<rect x="468.17" y="567.43" width="6.33" height="5.42" fill="rgb(160, 160, 110)"/>
<rect x="436.50" y="572.85" width="6.33" height="5.42" fill="rgb(186, 186, 94)"/>
<rect x="442.83" y="572.85" width="6.33" height="5.42" fill="rgb(208, 208, 82)"/>
<rect x="449.17" y="572.85" width="6.33" height="5.42" fill="rgb(186, 186, 94)"/>
<rect x="455.50" y="572.85" width="6.33" height="5.42" fill="rgb(42, 46, 172)"/>
<rect x="461.83" y="572.85" width="6.33" height="5.42" fill="rgb(108, 116, 170)"/>
<rect x="468.17" y="572.85" width="6.33" height="5.42" fill="rgb(128, 130, 138)"/>
<rect x="436.50" y="578.28" width="6.33" height="5.42" fill="rgb(208, 208, 82)"/>
<rect x="442.83" y="578.28" width="6.33" height="5.42" fill="rgb(128, 130, 138)"/>
<rect x="449.17" y="578.28" width="6.33" height="5.42" fill="rgb(186, 186, 94)"/>
<rect x="455.50" y="578.28" width="6.33" height="5.42" fill="rgb(42, 46, 172)"/>
<rect x="461.83" y="578.28" width="6.33" height="5.42" fill="rgb(80, 94, 198)"/>
<rect x="468.17" y="578.28" width="6.33" height="5.42" fill="rgb(160, 160, 110)"/>
<line x1="436.50" y1="46.8" x2="436.50" y2="583.70" stroke="#000" stroke-opacity="0.55" stroke-width="0.95"/>
<line x1="442.83" y1="46.8" x2="442.83" y2="583.70" stroke="#000" stroke-opacity="0.55" stroke-width="0.95"/>
<line x1="449.17" y1="46.8" x2="449.17" y2="583.70" stroke="#000" stroke-opacity="0.55" stroke-width="0.95"/>
<line x1="455.50" y1="46.8" x2="455.50" y2="583.70" stroke="#000" stroke-opacity="0.55" stroke-width="0.95"/>
<line x1="461.83" y1="46.8" x2="461.83" y2="583.70" stroke="#000" stroke-opacity="0.55" stroke-width="0.95"/>
<line x1="468.17" y1="46.8" x2="468.17" y2="583.70" stroke="#000" stroke-opacity="0.55" stroke-width="0.95"/>
<line x1="474.50" y1="46.8" x2="474.50" y2="583.70" stroke="#000" stroke-opacity="0.55" stroke-width="0.95"/>
<line x1="436.5" y1="46.80" x2="474.50" y2="46.80" stroke="#000" stroke-opacity="0.55" stroke-width="0.95"/>
<line x1="436.5" y1="52.22" x2="474.50" y2="52.22" stroke="#000" stroke-opacity="0.55" stroke-width="0.95"/>
<line x1="436.5" y1="57.65" x2="474.50" y2="57.65" stroke="#000" stroke-opacity="0.55" stroke-width="0.95"/>
<line x1="436.5" y1="63.07" x2="474.50" y2="63.07" stroke="#000" stroke-opacity="0.55" stroke-width="0.95"/>
<line x1="436.5" y1="68.49" x2="474.50" y2="68.49" stroke="#000" stroke-opacity="0.55" stroke-width="0.95"/>
<line x1="436.5" y1="73.92" x2="474.50" y2="73.92" stroke="#000" stroke-opacity="0.55" stroke-width="0.95"/>
<line x1="436.5" y1="79.34" x2="474.50" y2="79.34" stroke="#000" stroke-opacity="0.55" stroke-width="0.95"/>
<line x1="436.5" y1="84.76" x2="474.50" y2="84.76" stroke="#000" stroke-opacity="0.55" stroke-width="0.95"/>
<line x1="436.5" y1="90.19" x2="474.50" y2="90.19" stroke="#000" stroke-opacity="0.55" stroke-width="0.95"/>
<line x1="436.5" y1="95.61" x2="474.50" y2="95.61" stroke="#000" stroke-opacity="0.55" stroke-width="0.95"/>
<line x1="436.5" y1="101.03" x2="474.50" y2="101.03" stroke="#000" stroke-opacity="0.55" stroke-width="0.95"/>
<line x1="436.5" y1="106.46" x2="474.50" y2="106.46" stroke="#000" stroke-opacity="0.55" stroke-width="0.95"/>
<line x1="436.5" y1="111.88" x2="474.50" y2="111.88" stroke="#000" stroke-opacity="0.55" stroke-width="0.95"/>
<line x1="436.5" y1="117.30" x2="474.50" y2="117.30" stroke="#000" stroke-opacity="0.55" stroke-width="0.95"/>
<line x1="436.5" y1="122.73" x2="474.50" y2="122.73" stroke="#000" stroke-opacity="0.55" stroke-width="0.95"/>
<line x1="436.5" y1="128.15" x2="474.50" y2="128.15" stroke="#000" stroke-opacity="0.55" stroke-width="0.95"/>
<line x1="436.5" y1="133.57" x2="474.50" y2="133.57" stroke="#000" stroke-opacity="0.55" stroke-width="0.95"/>
<line x1="436.5" y1="138.99" x2="474.50" y2="138.99" stroke="#000" stroke-opacity="0.55" stroke-width="0.95"/>
<line x1="436.5" y1="144.42" x2="474.50" y2="144.42" stroke="#000" stroke-opacity="0.55" stroke-width="0.95"/>
<line x1="436.5" y1="149.84" x2="474.50" y2="149.84" stroke="#000" stroke-opacity="0.55" stroke-width="0.95"/>
<line x1="436.5" y1="155.26" x2="474.50" y2="155.26" stroke="#000" stroke-opacity="0.55" stroke-width="0.95"/>
<line x1="436.5" y1="160.69" x2="474.50" y2="160.69" stroke="#000" stroke-opacity="0.55" stroke-width="0.95"/>
<line x1="436.5" y1="166.11" x2="474.50" y2="166.11" stroke="#000" stroke-opacity="0.55" stroke-width="0.95"/>
<line x1="436.5" y1="171.53" x2="474.50" y2="171.53" stroke="#000" stroke-opacity="0.55" stroke-width="0.95"/>
<line x1="436.5" y1="176.96" x2="474.50" y2="176.96" stroke="#000" stroke-opacity="0.55" stroke-width="0.95"/>
<line x1="436.5" y1="182.38" x2="474.50" y2="182.38" stroke="#000" stroke-opacity="0.55" stroke-width="0.95"/>
<line x1="436.5" y1="187.80" x2="474.50" y2="187.80" stroke="#000" stroke-opacity="0.55" stroke-width="0.95"/>
<line x1="436.5" y1="193.23" x2="474.50" y2="193.23" stroke="#000" stroke-opacity="0.55" stroke-width="0.95"/>
<line x1="436.5" y1="198.65" x2="474.50" y2="198.65" stroke="#000" stroke-opacity="0.55" stroke-width="0.95"/>
<line x1="436.5" y1="204.07" x2="474.50" y2="204.07" stroke="#000" stroke-opacity="0.55" stroke-width="0.95"/>
<line x1="436.5" y1="209.50" x2="474.50" y2="209.50" stroke="#000" stroke-opacity="0.55" stroke-width="0.95"/>
<line x1="436.5" y1="214.92" x2="474.50" y2="214.92" stroke="#000" stroke-opacity="0.55" stroke-width="0.95"/>
<line x1="436.5" y1="220.34" x2="474.50" y2="220.34" stroke="#000" stroke-opacity="0.55" stroke-width="0.95"/>
<line x1="436.5" y1="225.77" x2="474.50" y2="225.77" stroke="#000" stroke-opacity="0.55" stroke-width="0.95"/>
<line x1="436.5" y1="231.19" x2="474.50" y2="231.19" stroke="#000" stroke-opacity="0.55" stroke-width="0.95"/>
<line x1="436.5" y1="236.61" x2="474.50" y2="236.61" stroke="#000" stroke-opacity="0.55" stroke-width="0.95"/>
<line x1="436.5" y1="242.04" x2="474.50" y2="242.04" stroke="#000" stroke-opacity="0.55" stroke-width="0.95"/>
<line x1="436.5" y1="247.46" x2="474.50" y2="247.46" stroke="#000" stroke-opacity="0.55" stroke-width="0.95"/>
<line x1="436.5" y1="252.88" x2="474.50" y2="252.88" stroke="#000" stroke-opacity="0.55" stroke-width="0.95"/>
<line x1="436.5" y1="258.31" x2="474.50" y2="258.31" stroke="#000" stroke-opacity="0.55" stroke-width="0.95"/>
<line x1="436.5" y1="263.73" x2="474.50" y2="263.73" stroke="#000" stroke-opacity="0.55" stroke-width="0.95"/>
<line x1="436.5" y1="269.15" x2="474.50" y2="269.15" stroke="#000" stroke-opacity="0.55" stroke-width="0.95"/>
<line x1="436.5" y1="274.58" x2="474.50" y2="274.58" stroke="#000" stroke-opacity="0.55" stroke-width="0.95"/>
<line x1="436.5" y1="280.00" x2="474.50" y2="280.00" stroke="#000" stroke-opacity="0.55" stroke-width="0.95"/>
<line x1="436.5" y1="285.42" x2="474.50" y2="285.42" stroke="#000" stroke-opacity="0.55" stroke-width="0.95"/>
<line x1="436.5" y1="290.85" x2="474.50" y2="290.85" stroke="#000" stroke-opacity="0.55" stroke-width="0.95"/>
<line x1="436.5" y1="296.27" x2="474.50" y2="296.27" stroke="#000" stroke-opacity="0.55" stroke-width="0.95"/>
<line x1="436.5" y1="301.69" x2="474.50" y2="301.69" stroke="#000" stroke-opacity="0.55" stroke-width="0.95"/>
<line x1="436.5" y1="307.12" x2="474.50" y2="307.12" stroke="#000" stroke-opacity="0.55" stroke-width="0.95"/>
<line x1="436.5" y1="312.54" x2="474.50" y2="312.54" stroke="#000" stroke-opacity="0.55" stroke-width="0.95"/>
<line x1="436.5" y1="317.96" x2="474.50" y2="317.96" stroke="#000" stroke-opacity="0.55" stroke-width="0.95"/>
<line x1="436.5" y1="323.38" x2="474.50" y2="323.38" stroke="#000" stroke-opacity="0.55" stroke-width="0.95"/>
<line x1="436.5" y1="328.81" x2="474.50" y2="328.81" stroke="#000" stroke-opacity="0.55" stroke-width="0.95"/>
<line x1="436.5" y1="334.23" x2="474.50" y2="334.23" stroke="#000" stroke-opacity="0.55" stroke-width="0.95"/>
<line x1="436.5" y1="339.65" x2="474.50" y2="339.65" stroke="#000" stroke-opacity="0.55" stroke-width="0.95"/>
<line x1="436.5" y1="345.08" x2="474.50" y2="345.08" stroke="#000" stroke-opacity="0.55" stroke-width="0.95"/>
<line x1="436.5" y1="350.50" x2="474.50" y2="350.50" stroke="#000" stroke-opacity="0.55" stroke-width="0.95"/>
<line x1="436.5" y1="355.92" x2="474.50" y2="355.92" stroke="#000" stroke-opacity="0.55" stroke-width="0.95"/>
<line x1="436.5" y1="361.35" x2="474.50" y2="361.35" stroke="#000" stroke-opacity="0.55" stroke-width="0.95"/>
<line x1="436.5" y1="366.77" x2="474.50" y2="366.77" stroke="#000" stroke-opacity="0.55" stroke-width="0.95"/>
<line x1="436.5" y1="372.19" x2="474.50" y2="372.19" stroke="#000" stroke-opacity="0.55" stroke-width="0.95"/>
<line x1="436.5" y1="377.62" x2="474.50" y2="377.62" stroke="#000" stroke-opacity="0.55" stroke-width="0.95"/>
<line x1="436.5" y1="383.04" x2="474.50" y2="383.04" stroke="#000" stroke-opacity="0.55" stroke-width="0.95"/>
<line x1="436.5" y1="388.46" x2="474.50" y2="388.46" stroke="#000" stroke-opacity="0.55" stroke-width="0.95"/>
<line x1="436.5" y1="393.89" x2="474.50" y2="393.89" stroke="#000" stroke-opacity="0.55" stroke-width="0.95"/>
<line x1="436.5" y1="399.31" x2="474.50" y2="399.31" stroke="#000" stroke-opacity="0.55" stroke-width="0.95"/>
<line x1="436.5" y1="404.73" x2="474.50" y2="404.73" stroke="#000" stroke-opacity="0.55" stroke-width="0.95"/>
<line x1="436.5" y1="410.16" x2="474.50" y2="410.16" stroke="#000" stroke-opacity="0.55" stroke-width="0.95"/>
<line x1="436.5" y1="415.58" x2="474.50" y2="415.58" stroke="#000" stroke-opacity="0.55" stroke-width="0.95"/>
<line x1="436.5" y1="421.00" x2="474.50" y2="421.00" stroke="#000" stroke-opacity="0.55" stroke-width="0.95"/>
<line x1="436.5" y1="426.43" x2="474.50" y2="426.43" stroke="#000" stroke-opacity="0.55" stroke-width="0.95"/>
<line x1="436.5" y1="431.85" x2="474.50" y2="431.85" stroke="#000" stroke-opacity="0.55" stroke-width="0.95"/>
<line x1="436.5" y1="437.27" x2="474.50" y2="437.27" stroke="#000" stroke-opacity="0.55" stroke-width="0.95"/>
<line x1="436.5" y1="442.70" x2="474.50" y2="442.70" stroke="#000" stroke-opacity="0.55" stroke-width="0.95"/>
<line x1="436.5" y1="448.12" x2="474.50" y2="448.12" stroke="#000" stroke-opacity="0.55" stroke-width="0.95"/>
<line x1="436.5" y1="453.54" x2="474.50" y2="453.54" stroke="#000" stroke-opacity="0.55" stroke-width="0.95"/>
<line x1="436.5" y1="458.97" x2="474.50" y2="458.97" stroke="#000" stroke-opacity="0.55" stroke-width="0.95"/>
<line x1="436.5" y1="464.39" x2="474.50" y2="464.39" stroke="#000" stroke-opacity="0.55" stroke-width="0.95"/>
<line x1="436.5" y1="469.81" x2="474.50" y2="469.81" stroke="#000" stroke-opacity="0.55" stroke-width="0.95"/>
<line x1="436.5" y1="475.24" x2="474.50" y2="475.24" stroke="#000" stroke-opacity="0.55" stroke-width="0.95"/>
<line x1="436.5" y1="480.66" x2="474.50" y2="480.66" stroke="#000" stroke-opacity="0.55" stroke-width="0.95"/>
<line x1="436.5" y1="486.08" x2="474.50" y2="486.08" stroke="#000" stroke-opacity="0.55" stroke-width="0.95"/>
<line x1="436.5" y1="491.51" x2="474.50" y2="491.51" stroke="#000" stroke-opacity="0.55" stroke-width="0.95"/>
<line x1="436.5" y1="496.93" x2="474.50" y2="496.93" stroke="#000" stroke-opacity="0.55" stroke-width="0.95"/>
<line x1="436.5" y1="502.35" x2="474.50" y2="502.35" stroke="#000" stroke-opacity="0.55" stroke-width="0.95"/>
<line x1="436.5" y1="507.77" x2="474.50" y2="507.77" stroke="#000" stroke-opacity="0.55" stroke-width="0.95"/>
<line x1="436.5" y1="513.20" x2="474.50" y2="513.20" stroke="#000" stroke-opacity="0.55" stroke-width="0.95"/>
<line x1="436.5" y1="518.62" x2="474.50" y2="518.62" stroke="#000" stroke-opacity="0.55" stroke-width="0.95"/>
<line x1="436.5" y1="524.04" x2="474.50" y2="524.04" stroke="#000" stroke-opacity="0.55" stroke-width="0.95"/>
<line x1="436.5" y1="529.47" x2="474.50" y2="529.47" stroke="#000" stroke-opacity="0.55" stroke-width="0.95"/>
<line x1="436.5" y1="534.89" x2="474.50" y2="534.89" stroke="#000" stroke-opacity="0.55" stroke-width="0.95"/>
<line x1="436.5" y1="540.31" x2="474.50" y2="540.31" stroke="#000" stroke-opacity="0.55" stroke-width="0.95"/>
<line x1="436.5" y1="545.74" x2="474.50" y2="545.74" stroke="#000" stroke-opacity="0.55" stroke-width="0.95"/>
<line x1="436.5" y1="551.16" x2="474.50" y2="551.16" stroke="#000" stroke-opacity="0.55" stroke-width="0.95"/>
<line x1="436.5" y1="556.58" x2="474.50" y2="556.58" stroke="#000" stroke-opacity="0.55" stroke-width="0.95"/>
<line x1="436.5" y1="562.01" x2="474.50" y2="562.01" stroke="#000" stroke-opacity="0.55" stroke-width="0.95"/>
<line x1="436.5" y1="567.43" x2="474.50" y2="567.43" stroke="#000" stroke-opacity="0.55" stroke-width="0.95"/>
<line x1="436.5" y1="572.85" x2="474.50" y2="572.85" stroke="#000" stroke-opacity="0.55" stroke-width="0.95"/>
<line x1="436.5" y1="578.28" x2="474.50" y2="578.28" stroke="#000" stroke-opacity="0.55" stroke-width="0.95"/>
<line x1="436.5" y1="583.70" x2="474.50" y2="583.70" stroke="#000" stroke-opacity="0.55" stroke-width="0.95"/>
<text x="478.00" y="51.51" font-size="5.9" fill="#4a4a4a" text-anchor="start" font-weight="normal" textLength="11.78" lengthAdjust="spacingAndGlyphs" >Tbk1</text>
<text x="478.00" y="56.93" font-size="5.9" fill="#4a4a4a" text-anchor="start" font-weight="normal" textLength="9.13" lengthAdjust="spacingAndGlyphs" >Atl2</text>
<text x="478.00" y="62.36" font-size="5.9" fill="#4a4a4a" text-anchor="start" font-weight="normal" textLength="7.95" lengthAdjust="spacingAndGlyphs" >Cbl</text>
<text x="478.00" y="67.78" font-size="5.9" fill="#4a4a4a" text-anchor="start" font-weight="normal" textLength="12.08" lengthAdjust="spacingAndGlyphs" >Dtx3l</text>
<text x="478.00" y="73.20" font-size="5.9" fill="#4a4a4a" text-anchor="start" font-weight="normal" textLength="15.33" lengthAdjust="spacingAndGlyphs" >Ap3b1</text>
<text x="478.00" y="78.63" font-size="5.9" fill="#4a4a4a" text-anchor="start" font-weight="normal" textLength="15.62" lengthAdjust="spacingAndGlyphs" >Rab17</text>
<text x="478.00" y="84.05" font-size="5.9" fill="#4a4a4a" text-anchor="start" font-weight="normal" textLength="12.37" lengthAdjust="spacingAndGlyphs" >Ctla4</text>
<text x="478.00" y="89.47" font-size="5.9" fill="#4a4a4a" text-anchor="start" font-weight="normal" textLength="11.78" lengthAdjust="spacingAndGlyphs" >Fyb2</text>
<text x="478.00" y="94.90" font-size="5.9" fill="#111" text-anchor="start" font-weight="bold" textLength="15.61" lengthAdjust="spacingAndGlyphs" >H2-Q4</text>
<text x="478.00" y="100.32" font-size="5.9" fill="#111" text-anchor="start" font-weight="bold" textLength="22.09" lengthAdjust="spacingAndGlyphs" >Tnfsf13b</text>
<text x="478.00" y="105.74" font-size="5.9" fill="#4a4a4a" text-anchor="start" font-weight="normal" textLength="12.37" lengthAdjust="spacingAndGlyphs" >Cybb</text>
<text x="478.00" y="111.17" font-size="5.9" fill="#4a4a4a" text-anchor="start" font-weight="normal" textLength="11.49" lengthAdjust="spacingAndGlyphs" >Tap1</text>
<text x="478.00" y="116.59" font-size="5.9" fill="#4a4a4a" text-anchor="start" font-weight="normal" textLength="15.62" lengthAdjust="spacingAndGlyphs" >Lgals9</text>
<text x="478.00" y="122.01" font-size="5.9" fill="#111" text-anchor="start" font-weight="bold" textLength="15.61" lengthAdjust="spacingAndGlyphs" >H2-Q6</text>
<text x="478.00" y="127.44" font-size="5.9" fill="#4a4a4a" text-anchor="start" font-weight="normal" textLength="18.27" lengthAdjust="spacingAndGlyphs" >Unc13d</text>
<text x="478.00" y="132.86" font-size="5.9" fill="#4a4a4a" text-anchor="start" font-weight="normal" textLength="12.67" lengthAdjust="spacingAndGlyphs" >Cd8a</text>
<text x="478.00" y="138.28" font-size="5.9" fill="#4a4a4a" text-anchor="start" font-weight="normal" textLength="12.38" lengthAdjust="spacingAndGlyphs" >Pnp2</text>
<text x="478.00" y="143.71" font-size="5.9" fill="#4a4a4a" text-anchor="start" font-weight="normal" textLength="16.51" lengthAdjust="spacingAndGlyphs" >Pla2g6</text>
<text x="478.00" y="149.13" font-size="5.9" fill="#4a4a4a" text-anchor="start" font-weight="normal" textLength="12.38" lengthAdjust="spacingAndGlyphs" >Stat1</text>
<text x="478.00" y="154.55" font-size="5.9" fill="#4a4a4a" text-anchor="start" font-weight="normal" textLength="12.38" lengthAdjust="spacingAndGlyphs" >Stat2</text>
<text x="478.00" y="159.98" font-size="5.9" fill="#4a4a4a" text-anchor="start" font-weight="normal" textLength="13.85" lengthAdjust="spacingAndGlyphs" >Oasl2</text>
<text x="478.00" y="165.40" font-size="5.9" fill="#4a4a4a" text-anchor="start" font-weight="normal" textLength="11.78" lengthAdjust="spacingAndGlyphs" >Ighm</text>
<text x="478.00" y="170.82" font-size="5.9" fill="#4a4a4a" text-anchor="start" font-weight="normal" textLength="12.67" lengthAdjust="spacingAndGlyphs" >Oas2</text>
<text x="478.00" y="176.25" font-size="5.9" fill="#4a4a4a" text-anchor="start" font-weight="normal" textLength="12.67" lengthAdjust="spacingAndGlyphs" >Oas3</text>
<text x="478.00" y="181.67" font-size="5.9" fill="#4a4a4a" text-anchor="start" font-weight="normal" textLength="12.97" lengthAdjust="spacingAndGlyphs" >Isg15</text>
<text x="478.00" y="187.09" font-size="5.9" fill="#4a4a4a" text-anchor="start" font-weight="normal" textLength="7.65" lengthAdjust="spacingAndGlyphs" >Frk</text>
<text x="478.00" y="192.52" font-size="5.9" fill="#4a4a4a" text-anchor="start" font-weight="normal" textLength="12.08" lengthAdjust="spacingAndGlyphs" >Btnl2</text>
<text x="478.00" y="197.94" font-size="5.9" fill="#4a4a4a" text-anchor="start" font-weight="normal" textLength="13.26" lengthAdjust="spacingAndGlyphs" >Znfx1</text>
<text x="478.00" y="203.36" font-size="5.9" fill="#4a4a4a" text-anchor="start" font-weight="normal" textLength="10.90" lengthAdjust="spacingAndGlyphs" >B2m</text>
<text x="478.00" y="208.79" font-size="5.9" fill="#111" text-anchor="start" font-weight="bold" textLength="15.32" lengthAdjust="spacingAndGlyphs" >H2-Aa</text>
<text x="478.00" y="214.21" font-size="5.9" fill="#4a4a4a" text-anchor="start" font-weight="normal" textLength="12.97" lengthAdjust="spacingAndGlyphs" >Gbp6</text>
<text x="478.00" y="219.63" font-size="5.9" fill="#111" text-anchor="start" font-weight="bold" textLength="12.96" lengthAdjust="spacingAndGlyphs" >Cd74</text>
<text x="478.00" y="225.06" font-size="5.9" fill="#111" text-anchor="start" font-weight="bold" textLength="18.56" lengthAdjust="spacingAndGlyphs" >H2-Ab1</text>
<text x="478.00" y="230.48" font-size="5.9" fill="#111" text-anchor="start" font-weight="bold" textLength="18.26" lengthAdjust="spacingAndGlyphs" >H2-Eb1</text>
<text x="478.00" y="235.90" font-size="5.9" fill="#4a4a4a" text-anchor="start" font-weight="normal" textLength="16.80" lengthAdjust="spacingAndGlyphs" >Smad7</text>
<text x="478.00" y="241.32" font-size="5.9" fill="#4a4a4a" text-anchor="start" font-weight="normal" textLength="17.18" lengthAdjust="spacingAndGlyphs" >Ticam1</text>
<text x="478.00" y="246.75" font-size="5.9" fill="#4a4a4a" text-anchor="start" font-weight="normal" textLength="10.89" lengthAdjust="spacingAndGlyphs" >Tcim</text>
<text x="478.00" y="252.17" font-size="5.9" fill="#4a4a4a" text-anchor="start" font-weight="normal" textLength="7.37" lengthAdjust="spacingAndGlyphs" >Lat</text>
<text x="478.00" y="257.59" font-size="5.9" fill="#4a4a4a" text-anchor="start" font-weight="normal" textLength="11.78" lengthAdjust="spacingAndGlyphs" >Fzd5</text>
<text x="478.00" y="263.02" font-size="5.9" fill="#4a4a4a" text-anchor="start" font-weight="normal" textLength="10.60" lengthAdjust="spacingAndGlyphs" >Ccl5</text>
<text x="478.00" y="268.44" font-size="5.9" fill="#4a4a4a" text-anchor="start" font-weight="normal" textLength="18.86" lengthAdjust="spacingAndGlyphs" >Gpr15lg</text>
<text x="478.00" y="273.86" font-size="5.9" fill="#111" text-anchor="start" font-weight="bold" textLength="17.67" lengthAdjust="spacingAndGlyphs" >H2-T22</text>
<text x="478.00" y="279.29" font-size="5.9" fill="#4a4a4a" text-anchor="start" font-weight="normal" textLength="12.37" lengthAdjust="spacingAndGlyphs" >Cyba</text>
<text x="478.00" y="284.71" font-size="5.9" fill="#4a4a4a" text-anchor="start" font-weight="normal" textLength="16.80" lengthAdjust="spacingAndGlyphs" >Smad6</text>
<text x="478.00" y="290.13" font-size="5.9" fill="#4a4a4a" text-anchor="start" font-weight="normal" textLength="12.08" lengthAdjust="spacingAndGlyphs" >Btnl1</text>
<text x="478.00" y="295.56" font-size="5.9" fill="#111" text-anchor="start" font-weight="bold" textLength="15.91" lengthAdjust="spacingAndGlyphs" >Casp1</text>
<text x="478.00" y="300.98" font-size="5.9" fill="#4a4a4a" text-anchor="start" font-weight="normal" textLength="16.50" lengthAdjust="spacingAndGlyphs" >Pycard</text>
<text x="478.00" y="306.40" font-size="5.9" fill="#4a4a4a" text-anchor="start" font-weight="normal" textLength="12.37" lengthAdjust="spacingAndGlyphs" >Ptprs</text>
<text x="478.00" y="311.83" font-size="5.9" fill="#4a4a4a" text-anchor="start" font-weight="normal" textLength="11.69" lengthAdjust="spacingAndGlyphs" >Vav3</text>
<text x="478.00" y="317.25" font-size="5.9" fill="#111" text-anchor="start" font-weight="bold" textLength="13.55" lengthAdjust="spacingAndGlyphs" >Nlrp6</text>
<text x="478.00" y="322.67" font-size="5.9" fill="#4a4a4a" text-anchor="start" font-weight="normal" textLength="12.67" lengthAdjust="spacingAndGlyphs" >Nqo1</text>
<text x="478.00" y="328.10" font-size="5.9" fill="#4a4a4a" text-anchor="start" font-weight="normal" textLength="15.32" lengthAdjust="spacingAndGlyphs" >Nfe2l2</text>
<text x="478.00" y="333.52" font-size="5.9" fill="#4a4a4a" text-anchor="start" font-weight="normal" textLength="10.61" lengthAdjust="spacingAndGlyphs" >Sla2</text>
<text x="478.00" y="338.94" font-size="5.9" fill="#4a4a4a" text-anchor="start" font-weight="normal" textLength="9.72" lengthAdjust="spacingAndGlyphs" >Cd2</text>
<text x="478.00" y="344.37" font-size="5.9" fill="#4a4a4a" text-anchor="start" font-weight="normal" textLength="9.13" lengthAdjust="spacingAndGlyphs" >Rigi</text>
<text x="478.00" y="349.79" font-size="5.9" fill="#4a4a4a" text-anchor="start" font-weight="normal" textLength="9.72" lengthAdjust="spacingAndGlyphs" >Cd6</text>
<text x="478.00" y="355.21" font-size="5.9" fill="#4a4a4a" text-anchor="start" font-weight="normal" textLength="16.30" lengthAdjust="spacingAndGlyphs" >Trim21</text>
<text x="478.00" y="360.64" font-size="5.9" fill="#111" text-anchor="start" font-weight="bold" textLength="13.26" lengthAdjust="spacingAndGlyphs" >Nlrc5</text>
<text x="478.00" y="366.06" font-size="5.9" fill="#4a4a4a" text-anchor="start" font-weight="normal" textLength="17.68" lengthAdjust="spacingAndGlyphs" >Tnfsf10</text>
<text x="478.00" y="371.48" font-size="5.9" fill="#4a4a4a" text-anchor="start" font-weight="normal" textLength="10.60" lengthAdjust="spacingAndGlyphs" >Ciita</text>
<text x="478.00" y="376.91" font-size="5.9" fill="#111" text-anchor="start" font-weight="bold" textLength="19.73" lengthAdjust="spacingAndGlyphs" >H2-DMa</text>
<text x="478.00" y="382.33" font-size="5.9" fill="#111" text-anchor="start" font-weight="bold" textLength="15.61" lengthAdjust="spacingAndGlyphs" >H2-Q7</text>
<text x="478.00" y="387.75" font-size="5.9" fill="#111" text-anchor="start" font-weight="bold" textLength="22.97" lengthAdjust="spacingAndGlyphs" >H2-DMb1</text>
<text x="478.00" y="393.18" font-size="5.9" fill="#4a4a4a" text-anchor="start" font-weight="normal" textLength="15.32" lengthAdjust="spacingAndGlyphs" >Dhx58</text>
<text x="478.00" y="398.60" font-size="5.9" fill="#4a4a4a" text-anchor="start" font-weight="normal" textLength="10.02" lengthAdjust="spacingAndGlyphs" >Ifi44</text>
<text x="478.00" y="404.02" font-size="5.9" fill="#4a4a4a" text-anchor="start" font-weight="normal" textLength="11.20" lengthAdjust="spacingAndGlyphs" >Adar</text>
<text x="478.00" y="409.44" font-size="5.9" fill="#111" text-anchor="start" font-weight="bold" textLength="9.42" lengthAdjust="spacingAndGlyphs" >Ifit3</text>
<text x="478.00" y="414.87" font-size="5.9" fill="#4a4a4a" text-anchor="start" font-weight="normal" textLength="8.84" lengthAdjust="spacingAndGlyphs" >Igtp</text>
<text x="478.00" y="420.29" font-size="5.9" fill="#111" text-anchor="start" font-weight="bold" textLength="9.42" lengthAdjust="spacingAndGlyphs" >Ifit1</text>
<text x="478.00" y="425.71" font-size="5.9" fill="#4a4a4a" text-anchor="start" font-weight="normal" textLength="17.09" lengthAdjust="spacingAndGlyphs" >Parp14</text>
<text x="478.00" y="431.14" font-size="5.9" fill="#4a4a4a" text-anchor="start" font-weight="normal" textLength="12.67" lengthAdjust="spacingAndGlyphs" >Cd3d</text>
<text x="478.00" y="436.56" font-size="5.9" fill="#4a4a4a" text-anchor="start" font-weight="normal" textLength="13.55" lengthAdjust="spacingAndGlyphs" >Irgm2</text>
<text x="478.00" y="441.98" font-size="5.9" fill="#111" text-anchor="start" font-weight="bold" textLength="14.14" lengthAdjust="spacingAndGlyphs" >Ifitm3</text>
<text x="478.00" y="447.41" font-size="5.9" fill="#4a4a4a" text-anchor="start" font-weight="normal" textLength="10.61" lengthAdjust="spacingAndGlyphs" >Bst2</text>
<text x="478.00" y="452.83" font-size="5.9" fill="#4a4a4a" text-anchor="start" font-weight="normal" textLength="15.62" lengthAdjust="spacingAndGlyphs" >Cd24a</text>
<text x="478.00" y="458.25" font-size="5.9" fill="#4a4a4a" text-anchor="start" font-weight="normal" textLength="9.72" lengthAdjust="spacingAndGlyphs" >C1rl</text>
<text x="478.00" y="463.68" font-size="5.9" fill="#4a4a4a" text-anchor="start" font-weight="normal" textLength="12.08" lengthAdjust="spacingAndGlyphs" >Hck2</text>
<text x="478.00" y="469.10" font-size="5.9" fill="#4a4a4a" text-anchor="start" font-weight="normal" textLength="15.03" lengthAdjust="spacingAndGlyphs" >Psg17</text>
<text x="478.00" y="474.52" font-size="5.9" fill="#4a4a4a" text-anchor="start" font-weight="normal" textLength="23.77" lengthAdjust="spacingAndGlyphs" >Rab11fip5</text>
<text x="478.00" y="479.95" font-size="5.9" fill="#4a4a4a" text-anchor="start" font-weight="normal" textLength="11.78" lengthAdjust="spacingAndGlyphs" >Ass1</text>
<text x="478.00" y="485.37" font-size="5.9" fill="#4a4a4a" text-anchor="start" font-weight="normal" textLength="11.49" lengthAdjust="spacingAndGlyphs" >Il1rl2</text>
<text x="478.00" y="490.79" font-size="5.9" fill="#4a4a4a" text-anchor="start" font-weight="normal" textLength="13.26" lengthAdjust="spacingAndGlyphs" >Tyro3</text>
<text x="478.00" y="496.22" font-size="5.9" fill="#4a4a4a" text-anchor="start" font-weight="normal" textLength="15.62" lengthAdjust="spacingAndGlyphs" >N4bp3</text>
<text x="478.00" y="501.64" font-size="5.9" fill="#4a4a4a" text-anchor="start" font-weight="normal" textLength="13.55" lengthAdjust="spacingAndGlyphs" >Ccl20</text>
<text x="478.00" y="507.06" font-size="5.9" fill="#4a4a4a" text-anchor="start" font-weight="normal" textLength="16.50" lengthAdjust="spacingAndGlyphs" >Stxbp1</text>
<text x="478.00" y="512.49" font-size="5.9" fill="#4a4a4a" text-anchor="start" font-weight="normal" textLength="13.26" lengthAdjust="spacingAndGlyphs" >Tnip3</text>
<text x="478.00" y="517.91" font-size="5.9" fill="#4a4a4a" text-anchor="start" font-weight="normal" textLength="12.67" lengthAdjust="spacingAndGlyphs" >C4bp</text>
<text x="478.00" y="523.33" font-size="5.9" fill="#4a4a4a" text-anchor="start" font-weight="normal" textLength="12.67" lengthAdjust="spacingAndGlyphs" >Chga</text>
<text x="478.00" y="528.76" font-size="5.9" fill="#4a4a4a" text-anchor="start" font-weight="normal" textLength="12.38" lengthAdjust="spacingAndGlyphs" >Ang4</text>
<text x="478.00" y="534.18" font-size="5.9" fill="#4a4a4a" text-anchor="start" font-weight="normal" textLength="15.03" lengthAdjust="spacingAndGlyphs" >Anxa3</text>
<text x="478.00" y="539.60" font-size="5.9" fill="#4a4a4a" text-anchor="start" font-weight="normal" textLength="19.75" lengthAdjust="spacingAndGlyphs" >Cd200l1</text>
<text x="478.00" y="545.03" font-size="5.9" fill="#4a4a4a" text-anchor="start" font-weight="normal" textLength="15.03" lengthAdjust="spacingAndGlyphs" >Spns2</text>
<text x="478.00" y="550.45" font-size="5.9" fill="#4a4a4a" text-anchor="start" font-weight="normal" textLength="15.33" lengthAdjust="spacingAndGlyphs" >Enpp3</text>
<text x="478.00" y="555.87" font-size="5.9" fill="#4a4a4a" text-anchor="start" font-weight="normal" textLength="17.98" lengthAdjust="spacingAndGlyphs" >Pla2g2f</text>
<text x="478.00" y="561.30" font-size="5.9" fill="#4a4a4a" text-anchor="start" font-weight="normal" textLength="18.57" lengthAdjust="spacingAndGlyphs" >Rab27a</text>
<text x="478.00" y="566.72" font-size="5.9" fill="#4a4a4a" text-anchor="start" font-weight="normal" textLength="8.84" lengthAdjust="spacingAndGlyphs" >Lbp</text>
<text x="478.00" y="572.14" font-size="5.9" fill="#4a4a4a" text-anchor="start" font-weight="normal" textLength="11.78" lengthAdjust="spacingAndGlyphs" >Fcna</text>
<text x="478.00" y="577.57" font-size="5.9" fill="#111" text-anchor="start" font-weight="bold" textLength="15.90" lengthAdjust="spacingAndGlyphs" >Wfdc2</text>
<text x="478.00" y="582.99" font-size="5.9" fill="#4a4a4a" text-anchor="start" font-weight="normal" textLength="12.37" lengthAdjust="spacingAndGlyphs" >Ffar2</text>
<line x1="436.6" y1="6.4" x2="436.6" y2="46.5" stroke="#666" stroke-width="0.8"/>
<line x1="455.5" y1="6.4" x2="455.5" y2="46.5" stroke="#666" stroke-width="0.8"/>
<line x1="474.3" y1="6.4" x2="474.3" y2="46.5" stroke="#666" stroke-width="0.8"/>
<line x1="436.3" y1="46.2" x2="474.6" y2="46.2" stroke="#333" stroke-width="0.8"/>
<text transform="translate(446.6,43.8) rotate(-83)" font-size="5.8" fill="#444">gp91<tspan font-size="4.6" dy="-3.3">phox−/−</tspan></text>
<text transform="translate(466.4,43.8) rotate(-83)" font-size="5.8" fill="#444">p47<tspan font-size="4.6" dy="-3.3">phox−/−</tspan></text>
<text transform="translate(430.2,352) rotate(-90)" font-size="7" fill="#333" textLength="89.5" lengthAdjust="spacingAndGlyphs">GO BP: Immune Response</text>
<defs><linearGradient id="cb" x1="0" x2="1" y1="0" y2="0"><stop offset="0" stop-color="rgb(228,228,60)"/><stop offset="0.25" stop-color="rgb(196,196,70)"/><stop offset="0.5" stop-color="rgb(130,130,125)"/><stop offset="0.75" stop-color="rgb(62,78,196)"/><stop offset="1" stop-color="rgb(32,34,150)"/></linearGradient></defs>
<rect x="436" y="592.2" width="38.9" height="12.9" fill="url(#cb)"/>
<line x1="445.9" y1="605.1" x2="445.9" y2="607.3" stroke="#666" stroke-width="0.6"/>
<text x="445.90" y="616.30" font-size="5.9" fill="#444" text-anchor="middle" font-weight="normal" >−1</text>
<line x1="455.5" y1="605.1" x2="455.5" y2="607.3" stroke="#666" stroke-width="0.6"/>
<text x="455.50" y="616.30" font-size="5.9" fill="#444" text-anchor="middle" font-weight="normal" >0</text>
<line x1="464.8" y1="605.1" x2="464.8" y2="607.3" stroke="#666" stroke-width="0.6"/>
<text x="464.80" y="616.30" font-size="5.9" fill="#444" text-anchor="middle" font-weight="normal" >1</text>
<text x="477.70" y="598.20" font-size="6.0" fill="#222" text-anchor="start" font-weight="bold" textLength="28.30" lengthAdjust="spacingAndGlyphs" >RANGE OF</text>
<text x="477.70" y="604.30" font-size="6.0" fill="#222" text-anchor="start" font-weight="bold" textLength="33.60" lengthAdjust="spacingAndGlyphs" >EXPRESSION</text>
</svg>
</body></html>
